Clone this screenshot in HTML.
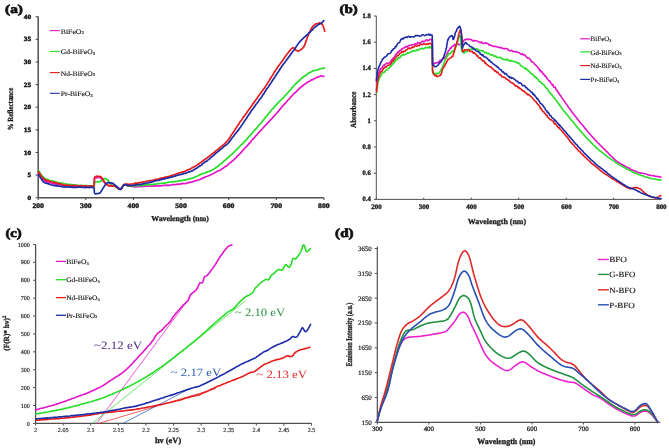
<!DOCTYPE html>
<html><head><meta charset="utf-8"><style>
html,body{margin:0;padding:0;background:#fff;width:669px;height:448px;overflow:hidden}
svg{display:block;font-family:"Liberation Serif",serif;will-change:transform;filter:blur(0.35px);text-rendering:geometricPrecision}
</style></head><body>
<svg width="669" height="448" viewBox="0 0 669 448">
<rect width="669" height="448" fill="#fff"/>
<line x1="38.20" y1="16.40" x2="38.20" y2="197.70" stroke="#505050" stroke-width="1.5"/>
<line x1="38.20" y1="197.70" x2="323.90" y2="197.70" stroke="#505050" stroke-width="1.5"/>
<line x1="35.60" y1="197.70" x2="38.20" y2="197.70" stroke="#505050" stroke-width="1.1"/>
<text x="27.50" y="199.80" font-size="6.4" font-weight="bold" fill="#1a1a1a" textLength="3.70" lengthAdjust="spacingAndGlyphs" stroke="#1a1a1a" stroke-width="0.4">0</text>
<line x1="35.60" y1="175.08" x2="38.20" y2="175.08" stroke="#505050" stroke-width="1.1"/>
<text x="27.50" y="177.18" font-size="6.4" font-weight="bold" fill="#1a1a1a" textLength="3.70" lengthAdjust="spacingAndGlyphs" stroke="#1a1a1a" stroke-width="0.4">5</text>
<line x1="35.60" y1="152.46" x2="38.20" y2="152.46" stroke="#505050" stroke-width="1.1"/>
<text x="23.80" y="154.56" font-size="6.4" font-weight="bold" fill="#1a1a1a" textLength="7.40" lengthAdjust="spacingAndGlyphs" stroke="#1a1a1a" stroke-width="0.4">10</text>
<line x1="35.60" y1="129.84" x2="38.20" y2="129.84" stroke="#505050" stroke-width="1.1"/>
<text x="23.80" y="131.94" font-size="6.4" font-weight="bold" fill="#1a1a1a" textLength="7.40" lengthAdjust="spacingAndGlyphs" stroke="#1a1a1a" stroke-width="0.4">15</text>
<line x1="35.60" y1="107.22" x2="38.20" y2="107.22" stroke="#505050" stroke-width="1.1"/>
<text x="23.80" y="109.32" font-size="6.4" font-weight="bold" fill="#1a1a1a" textLength="7.40" lengthAdjust="spacingAndGlyphs" stroke="#1a1a1a" stroke-width="0.4">20</text>
<line x1="35.60" y1="84.60" x2="38.20" y2="84.60" stroke="#505050" stroke-width="1.1"/>
<text x="23.80" y="86.70" font-size="6.4" font-weight="bold" fill="#1a1a1a" textLength="7.40" lengthAdjust="spacingAndGlyphs" stroke="#1a1a1a" stroke-width="0.4">25</text>
<line x1="35.60" y1="61.98" x2="38.20" y2="61.98" stroke="#505050" stroke-width="1.1"/>
<text x="23.80" y="64.08" font-size="6.4" font-weight="bold" fill="#1a1a1a" textLength="7.40" lengthAdjust="spacingAndGlyphs" stroke="#1a1a1a" stroke-width="0.4">30</text>
<line x1="35.60" y1="39.36" x2="38.20" y2="39.36" stroke="#505050" stroke-width="1.1"/>
<text x="23.80" y="41.46" font-size="6.4" font-weight="bold" fill="#1a1a1a" textLength="7.40" lengthAdjust="spacingAndGlyphs" stroke="#1a1a1a" stroke-width="0.4">35</text>
<line x1="35.60" y1="16.74" x2="38.20" y2="16.74" stroke="#505050" stroke-width="1.1"/>
<text x="23.80" y="18.84" font-size="6.4" font-weight="bold" fill="#1a1a1a" textLength="7.40" lengthAdjust="spacingAndGlyphs" stroke="#1a1a1a" stroke-width="0.4">40</text>
<line x1="38.20" y1="197.70" x2="38.20" y2="200.00" stroke="#505050" stroke-width="1.1"/>
<text x="32.40" y="208.10" font-size="7.0" font-weight="bold" fill="#1a1a1a" textLength="11.60" lengthAdjust="spacingAndGlyphs" stroke="#1a1a1a" stroke-width="0.4">200</text>
<line x1="85.82" y1="197.70" x2="85.82" y2="200.00" stroke="#505050" stroke-width="1.1"/>
<text x="80.02" y="208.10" font-size="7.0" font-weight="bold" fill="#1a1a1a" textLength="11.60" lengthAdjust="spacingAndGlyphs" stroke="#1a1a1a" stroke-width="0.4">300</text>
<line x1="133.44" y1="197.70" x2="133.44" y2="200.00" stroke="#505050" stroke-width="1.1"/>
<text x="127.64" y="208.10" font-size="7.0" font-weight="bold" fill="#1a1a1a" textLength="11.60" lengthAdjust="spacingAndGlyphs" stroke="#1a1a1a" stroke-width="0.4">400</text>
<line x1="181.06" y1="197.70" x2="181.06" y2="200.00" stroke="#505050" stroke-width="1.1"/>
<text x="175.26" y="208.10" font-size="7.0" font-weight="bold" fill="#1a1a1a" textLength="11.60" lengthAdjust="spacingAndGlyphs" stroke="#1a1a1a" stroke-width="0.4">500</text>
<line x1="228.68" y1="197.70" x2="228.68" y2="200.00" stroke="#505050" stroke-width="1.1"/>
<text x="222.88" y="208.10" font-size="7.0" font-weight="bold" fill="#1a1a1a" textLength="11.60" lengthAdjust="spacingAndGlyphs" stroke="#1a1a1a" stroke-width="0.4">600</text>
<line x1="276.30" y1="197.70" x2="276.30" y2="200.00" stroke="#505050" stroke-width="1.1"/>
<text x="270.50" y="208.10" font-size="7.0" font-weight="bold" fill="#1a1a1a" textLength="11.60" lengthAdjust="spacingAndGlyphs" stroke="#1a1a1a" stroke-width="0.4">700</text>
<line x1="323.92" y1="197.70" x2="323.92" y2="200.00" stroke="#505050" stroke-width="1.1"/>
<text x="318.12" y="208.10" font-size="7.0" font-weight="bold" fill="#1a1a1a" textLength="11.60" lengthAdjust="spacingAndGlyphs" stroke="#1a1a1a" stroke-width="0.4">800</text>
<text x="5.10" y="12.90" font-size="12.0" font-weight="bold" fill="#111" textLength="17.90" lengthAdjust="spacingAndGlyphs" stroke="#111" stroke-width="0.7">(a)</text>
<text x="151.30" y="220.80" font-size="7.6" font-weight="bold" fill="#1a1a1a" textLength="57.50" lengthAdjust="spacingAndGlyphs" stroke="#1a1a1a" stroke-width="0.3">Wavelength (nm)</text>
<text x="0" y="0" font-size="7.8" font-weight="bold" fill="#1a1a1a" textLength="42.40" lengthAdjust="spacingAndGlyphs" transform="translate(13.20,130.20) rotate(-90)" stroke="#1a1a1a" stroke-width="0.3">% Reflectance</text>
<line x1="49.80" y1="30.60" x2="59.80" y2="30.60" stroke="#e414c8" stroke-width="1.1"/>
<text x="60.80" y="33.60" font-size="6.9" font-weight="normal" fill="#1a1a1a" textLength="23.10" lengthAdjust="spacingAndGlyphs" stroke="#1a1a1a" stroke-width="0.15">BiFeO<tspan font-size='4.4' dy='0.5'>3</tspan></text>
<line x1="49.80" y1="51.40" x2="59.80" y2="51.40" stroke="#28dc28" stroke-width="1.1"/>
<text x="60.80" y="54.40" font-size="6.9" font-weight="normal" fill="#1a1a1a" textLength="34.40" lengthAdjust="spacingAndGlyphs" stroke="#1a1a1a" stroke-width="0.15">Gd-BiFeO<tspan font-size='4.4' dy='0.5'>3</tspan></text>
<line x1="49.80" y1="72.60" x2="59.80" y2="72.60" stroke="#e61c1c" stroke-width="1.1"/>
<text x="60.80" y="75.60" font-size="6.9" font-weight="normal" fill="#1a1a1a" textLength="34.40" lengthAdjust="spacingAndGlyphs" stroke="#1a1a1a" stroke-width="0.15">Nd-BiFeO<tspan font-size='4.4' dy='0.5'>3</tspan></text>
<line x1="49.80" y1="93.30" x2="59.80" y2="93.30" stroke="#1c2ca6" stroke-width="1.1"/>
<text x="60.80" y="96.30" font-size="6.9" font-weight="normal" fill="#1a1a1a" textLength="32.00" lengthAdjust="spacingAndGlyphs" stroke="#1a1a1a" stroke-width="0.15">Pr-BiFeO<tspan font-size='4.4' dy='0.5'>3</tspan></text>
<path d="M38.5,171.5 L38.9,172.3 L39.4,173.1 L39.9,174.4 L40.4,175.2 L41.0,176.5 L41.6,177.5 L42.2,178.3 L42.8,179.4 L43.6,179.9 L44.6,180.8 L45.7,181.2 L46.8,181.6 L47.9,182.2 L48.8,182.7 L49.8,182.6 L50.9,182.9 L52.1,183.3 L53.1,183.7 L54.0,183.6 L54.9,183.7 L55.9,184.2 L56.9,183.9 L58.0,184.5 L59.1,184.5 L60.3,184.6 L61.4,184.8 L62.6,185.0 L63.7,185.5 L64.8,185.3 L65.9,185.6 L66.9,185.8 L67.9,185.7 L68.9,185.9 L69.9,185.7 L70.9,185.8 L71.9,185.9 L72.9,186.2 L73.9,186.1 L74.9,186.1 L75.9,186.2 L77.0,186.2 L78.0,186.1 L79.0,186.4 L80.0,186.4 L81.1,186.2 L82.2,186.4 L83.3,186.4 L84.5,186.6 L85.6,186.5 L86.8,186.3 L88.0,186.7 L89.1,186.3 L90.1,186.4 L91.1,186.6 L92.0,186.3 L92.9,186.5 L93.5,186.2 L94.0,186.2 L94.2,185.5 L94.2,184.4 L94.3,183.5 L94.3,182.2 L94.3,181.3 L94.4,180.2 L94.4,179.2 L94.7,178.3 L95.4,178.0 L96.4,177.8 L97.6,177.4 L98.8,177.5 L99.9,177.4 L100.7,178.2 L101.4,178.8 L102.1,179.8 L102.7,180.5 L103.4,181.1 L104.1,182.0 L104.8,182.9 L105.6,183.3 L106.4,184.3 L107.2,184.8 L108.1,185.2 L109.0,185.5 L110.0,186.0 L111.0,185.8 L112.0,185.9 L113.0,186.0 L114.0,186.3 L115.0,186.0 L116.0,186.3 L117.0,186.7 L117.9,187.4 L118.8,188.1 L119.7,188.7 L120.4,188.6 L121.1,188.3 L121.7,187.5 L122.4,186.8 L123.1,186.0 L124.0,185.0 L124.8,184.9 L125.6,185.0 L126.4,185.2 L127.4,185.7 L128.5,186.1 L129.6,186.2 L130.8,186.2 L131.8,186.5 L132.7,186.5 L133.6,186.6 L134.6,186.8 L135.6,186.6 L136.6,186.5 L137.7,186.6 L138.8,186.6 L139.9,186.2 L140.9,186.6 L142.0,186.5 L143.0,186.5 L144.0,186.5 L145.1,186.2 L146.1,186.2 L147.2,186.1 L148.2,186.3 L149.2,186.0 L150.2,186.0 L151.2,186.1 L152.2,186.0 L153.3,186.1 L154.4,185.9 L155.6,185.8 L156.7,185.8 L157.7,185.8 L158.7,185.8 L159.6,185.6 L160.6,186.0 L161.6,185.8 L162.6,185.5 L163.6,185.4 L164.7,185.4 L165.8,185.3 L166.8,185.1 L167.9,185.4 L169.0,185.4 L170.0,185.1 L171.1,185.0 L172.1,184.7 L173.1,184.6 L174.1,184.6 L175.1,184.5 L176.1,184.6 L177.1,184.2 L178.2,184.0 L179.2,184.4 L180.2,184.0 L181.2,183.7 L182.2,183.8 L183.2,183.4 L184.1,183.5 L185.1,183.6 L186.1,183.4 L187.1,183.1 L188.0,182.7 L189.0,182.6 L190.0,182.2 L191.0,182.3 L192.1,181.9 L193.1,181.7 L194.2,181.1 L195.3,180.7 L196.4,180.6 L197.5,180.3 L198.5,179.9 L199.6,179.5 L200.6,179.1 L201.6,178.7 L202.5,178.1 L203.4,177.9 L204.2,177.5 L205.2,177.0 L206.3,176.5 L207.5,176.2 L208.4,175.7 L209.3,175.5 L210.2,175.2 L211.1,174.5 L212.0,174.2 L212.9,173.8 L213.7,173.4 L214.7,172.7 L215.6,172.2 L216.5,171.7 L217.4,171.3 L218.3,170.8 L219.2,170.5 L220.1,170.2 L221.1,169.6 L222.0,168.8 L223.0,168.3 L223.9,167.7 L224.8,166.7 L225.7,166.4 L226.6,165.9 L227.5,165.1 L228.4,164.5 L229.2,163.7 L230.0,162.8 L230.8,162.5 L231.6,161.5 L232.4,161.1 L233.2,160.4 L234.0,159.5 L234.7,158.8 L235.4,158.4 L236.1,157.6 L236.8,156.7 L237.5,155.9 L238.3,155.1 L239.1,154.7 L239.9,153.8 L240.6,152.7 L241.2,152.4 L241.9,151.7 L242.5,150.8 L243.2,149.9 L243.9,149.3 L244.7,148.2 L245.4,147.4 L246.2,147.0 L246.9,146.0 L247.7,145.1 L248.5,144.4 L249.2,143.3 L250.0,142.7 L250.6,142.0 L251.3,140.9 L251.9,140.2 L252.6,139.5 L253.2,138.7 L253.9,138.2 L254.6,137.2 L255.3,136.6 L255.9,135.6 L256.6,135.3 L257.3,134.2 L258.0,133.5 L258.7,132.7 L259.4,132.1 L260.1,131.1 L260.9,130.5 L261.6,129.5 L262.3,128.8 L263.0,128.0 L263.7,127.0 L264.4,126.5 L265.1,125.6 L265.9,124.7 L266.6,124.3 L267.3,123.2 L268.1,122.5 L268.8,121.9 L269.6,121.0 L270.3,120.1 L271.0,119.4 L271.7,118.7 L272.4,118.1 L273.1,117.0 L273.8,116.5 L274.4,115.6 L275.1,114.9 L275.8,114.3 L276.6,113.3 L277.3,112.4 L278.1,111.7 L278.7,110.9 L279.4,109.9 L280.1,109.2 L280.7,108.4 L281.3,107.6 L282.0,106.9 L282.6,106.0 L283.3,105.3 L284.0,104.5 L284.7,103.9 L285.4,103.0 L286.2,102.3 L286.9,101.5 L287.6,100.4 L288.4,99.7 L289.1,99.1 L289.8,98.3 L290.6,97.2 L291.3,96.4 L292.0,95.8 L292.8,94.8 L293.5,94.2 L294.3,93.3 L295.1,92.8 L295.9,92.0 L296.7,91.3 L297.4,90.2 L298.2,89.7 L299.0,88.9 L299.8,87.9 L300.6,87.6 L301.4,86.9 L302.1,85.9 L303.0,85.6 L303.8,84.7 L304.7,84.1 L305.6,83.7 L306.5,83.1 L307.4,82.2 L308.3,81.9 L309.1,81.4 L310.0,80.9 L310.9,80.3 L311.9,79.9 L312.8,79.6 L313.9,78.7 L315.0,78.4 L316.1,77.9 L317.1,77.2 L318.1,76.9 L319.1,76.7 L320.0,76.3 L321.0,75.8 L322.1,76.2 L323.0,76.3 L323.8,76.4" fill="none" stroke="#e414c8" stroke-width="1.7" stroke-linejoin="round" stroke-linecap="round"/>
<path d="M38.5,170.3 L39.1,171.5 L39.6,172.1 L40.3,173.3 L41.0,174.3 L41.8,175.7 L42.6,176.4 L43.4,177.2 L44.3,177.9 L45.2,178.7 L46.1,179.1 L47.1,179.3 L48.0,179.6 L48.9,180.3 L49.8,180.5 L50.9,180.8 L52.1,180.8 L53.1,181.0 L54.0,181.6 L54.9,181.7 L55.9,181.7 L56.9,182.4 L58.0,182.5 L59.1,182.8 L60.3,182.7 L61.4,183.3 L62.6,183.2 L63.7,183.8 L64.8,183.8 L65.9,183.9 L66.9,184.2 L67.9,184.5 L68.9,184.3 L69.9,184.4 L70.9,184.7 L71.9,184.7 L72.9,184.8 L73.9,184.9 L74.9,184.9 L75.9,185.1 L77.0,185.3 L78.0,185.3 L79.0,185.7 L80.0,185.5 L81.1,185.7 L82.2,185.6 L83.3,185.7 L84.5,185.6 L85.6,185.7 L86.8,185.6 L88.0,186.0 L89.1,185.9 L90.1,185.8 L91.1,185.9 L92.0,186.2 L92.9,185.8 L93.5,186.1 L94.0,185.6 L94.2,184.8 L94.3,184.0 L94.4,182.7 L94.7,182.0 L95.4,181.8 L96.4,182.0 L97.6,181.7 L98.9,181.9 L100.1,181.6 L101.1,181.1 L102.0,180.4 L102.9,179.7 L103.8,178.9 L104.7,178.5 L105.6,178.5 L106.4,179.2 L107.2,179.6 L107.9,180.4 L108.7,181.4 L109.5,182.7 L110.3,183.7 L111.1,184.4 L112.0,184.9 L113.0,185.5 L114.0,186.0 L115.0,186.6 L116.1,186.9 L117.2,187.7 L118.3,188.2 L119.4,189.0 L120.4,189.0 L121.1,188.3 L121.8,187.4 L122.4,186.8 L123.2,185.7 L124.0,185.1 L124.8,184.8 L125.6,185.0 L126.4,185.2 L127.4,185.5 L128.5,185.5 L129.6,185.9 L130.8,185.7 L131.8,185.9 L132.7,185.8 L133.6,185.9 L134.6,185.6 L135.6,185.6 L136.6,185.6 L137.7,185.5 L138.8,185.6 L139.9,185.5 L140.9,185.5 L142.0,185.3 L143.0,185.3 L144.0,185.3 L145.1,184.9 L146.1,184.8 L147.2,185.1 L148.2,184.5 L149.2,184.7 L150.2,184.6 L151.2,184.2 L152.2,184.5 L153.3,184.4 L154.4,184.1 L155.6,184.1 L156.7,184.0 L157.7,183.5 L158.7,183.6 L159.6,183.5 L160.6,183.5 L161.6,183.4 L162.6,183.3 L163.6,183.0 L164.7,183.1 L165.8,182.8 L166.8,182.7 L167.9,182.3 L169.0,182.1 L170.0,182.0 L171.1,182.0 L172.1,181.7 L173.1,181.9 L174.1,181.7 L175.1,181.6 L176.1,181.4 L177.2,181.3 L178.3,181.0 L179.3,180.6 L180.4,180.8 L181.5,180.6 L182.5,180.3 L183.5,180.2 L184.5,180.1 L185.5,179.6 L186.4,179.7 L187.4,179.3 L188.3,179.0 L189.2,178.9 L190.1,178.9 L191.2,178.3 L192.2,178.2 L193.3,178.0 L194.2,177.3 L195.2,176.9 L196.1,176.5 L197.0,176.2 L198.0,175.8 L198.9,175.3 L199.9,174.9 L200.9,174.3 L201.8,173.9 L202.8,173.6 L203.8,173.5 L204.8,172.9 L205.8,172.7 L206.8,172.1 L207.8,171.7 L208.8,171.4 L209.7,171.3 L210.6,170.9 L211.5,170.5 L212.4,169.8 L213.3,169.4 L214.2,168.9 L215.1,168.3 L215.9,167.6 L216.7,167.4 L217.4,166.4 L218.2,166.2 L219.1,165.5 L219.9,164.3 L220.7,163.9 L221.4,163.5 L222.2,162.9 L222.9,162.0 L223.7,161.3 L224.5,160.6 L225.3,160.3 L226.1,159.2 L226.8,158.7 L227.6,157.7 L228.4,157.2 L229.2,156.7 L230.0,155.6 L230.7,155.3 L231.5,154.5 L232.2,154.0 L232.9,153.3 L233.6,152.4 L234.3,152.1 L235.0,151.2 L235.8,150.3 L236.5,149.5 L237.3,149.0 L238.2,148.1 L239.1,147.2 L239.9,146.2 L240.6,145.6 L241.2,144.9 L241.9,144.5 L242.6,143.4 L243.3,143.0 L244.0,142.3 L244.7,141.1 L245.5,140.7 L246.2,139.8 L247.0,139.1 L247.7,137.9 L248.5,137.1 L249.2,136.3 L250.0,135.8 L250.7,134.8 L251.5,133.8 L252.2,133.1 L252.9,132.2 L253.5,131.4 L254.2,130.7 L254.8,130.3 L255.5,129.3 L256.3,128.7 L257.1,127.5 L257.8,126.6 L258.5,125.9 L259.2,124.9 L259.9,124.2 L260.5,123.7 L261.2,122.9 L261.8,122.1 L262.4,121.2 L263.0,120.6 L263.7,119.8 L264.3,118.8 L265.0,118.1 L265.6,117.0 L266.3,116.5 L267.0,115.6 L267.6,115.0 L268.3,114.1 L268.9,113.1 L269.6,112.2 L270.2,111.9 L270.9,110.7 L271.6,110.0 L272.2,109.2 L272.9,108.4 L273.6,107.8 L274.3,107.1 L275.0,106.0 L275.7,105.4 L276.4,104.5 L277.1,103.9 L277.8,103.1 L278.6,102.2 L279.3,101.4 L280.1,100.7 L280.8,100.3 L281.5,99.4 L282.3,98.5 L283.0,98.1 L283.7,97.4 L284.4,96.5 L285.0,95.6 L285.7,95.0 L286.4,94.2 L287.1,93.5 L287.9,92.6 L288.6,91.8 L289.3,91.0 L289.9,90.4 L290.6,89.8 L291.2,89.0 L291.8,88.0 L292.5,87.3 L293.2,86.6 L293.9,85.8 L294.6,85.0 L295.3,84.1 L296.1,83.5 L296.8,83.1 L297.6,81.9 L298.3,81.4 L299.1,80.7 L299.9,80.1 L300.6,79.1 L301.4,78.5 L302.2,77.8 L303.0,77.2 L303.8,76.6 L304.7,76.1 L305.6,75.4 L306.6,74.8 L307.5,73.8 L308.4,73.2 L309.3,73.0 L310.1,72.6 L311.0,71.9 L311.9,71.5 L312.9,70.8 L314.0,70.6 L315.0,70.5 L316.1,70.2 L317.0,69.9 L318.0,69.8 L319.0,69.1 L320.2,68.8 L321.4,68.5 L322.5,68.4 L323.4,68.2 L324.3,67.9" fill="none" stroke="#28dc28" stroke-width="1.7" stroke-linejoin="round" stroke-linecap="round"/>
<path d="M38.5,171.7 L39.1,172.8 L39.6,173.6 L40.3,174.5 L41.0,175.6 L41.6,176.4 L42.2,177.3 L42.8,177.8 L43.6,178.9 L44.6,179.2 L45.7,180.1 L46.8,180.4 L47.9,180.7 L48.8,180.9 L49.8,181.2 L50.9,181.7 L52.1,182.0 L53.1,182.0 L54.0,182.2 L54.9,182.7 L55.9,182.9 L56.9,183.1 L58.0,183.3 L59.1,183.8 L60.3,183.7 L61.4,184.2 L62.6,184.5 L63.7,185.0 L64.8,185.0 L65.9,185.3 L66.9,185.2 L67.9,185.2 L68.9,185.3 L69.9,185.7 L70.9,185.6 L71.9,185.5 L72.9,185.4 L73.9,185.7 L74.9,185.8 L75.9,185.7 L77.0,185.6 L78.0,185.8 L79.0,186.0 L80.0,185.7 L81.1,185.6 L82.2,185.8 L83.3,185.9 L84.5,186.0 L85.6,185.8 L86.8,186.1 L88.0,186.1 L89.1,186.0 L90.1,185.9 L91.1,186.3 L92.0,186.0 L92.9,186.2 L93.5,185.9 L94.0,185.6 L94.2,185.1 L94.2,183.9 L94.3,183.2 L94.3,181.9 L94.3,180.7 L94.3,179.7 L94.4,178.8 L94.4,177.9 L94.7,177.3 L95.3,176.5 L96.2,176.4 L97.3,176.2 L98.5,176.6 L99.6,176.3 L100.6,176.6 L101.4,177.2 L102.1,178.1 L102.8,179.3 L103.4,180.3 L104.1,181.3 L104.7,182.3 L105.3,183.2 L106.0,183.7 L106.7,184.4 L107.5,185.3 L108.3,185.6 L109.3,185.5 L110.4,185.8 L111.6,185.7 L112.8,185.8 L113.9,186.0 L114.9,186.3 L115.9,186.8 L116.9,187.6 L117.9,188.3 L118.8,189.2 L119.7,189.1 L120.5,189.5 L121.1,188.8 L121.7,188.1 L122.2,187.4 L122.7,186.4 L123.3,185.3 L124.0,184.4 L124.8,184.3 L125.6,184.1 L126.4,184.4 L127.4,184.1 L128.5,184.2 L129.6,184.5 L130.8,184.0 L131.8,184.0 L132.7,184.1 L133.6,183.9 L134.6,183.4 L135.6,183.2 L136.6,183.0 L137.7,183.2 L138.8,182.7 L139.9,182.7 L140.9,182.6 L142.0,182.1 L143.0,181.9 L144.0,182.0 L145.0,181.7 L146.0,181.3 L147.0,181.3 L148.0,181.0 L148.9,180.8 L149.8,180.5 L150.7,180.7 L151.6,180.6 L152.6,180.3 L153.6,180.3 L154.6,179.6 L155.7,179.4 L156.8,179.3 L157.8,179.3 L158.7,179.1 L159.6,178.6 L160.6,178.3 L161.6,178.1 L162.6,177.9 L163.6,177.9 L164.7,177.2 L165.8,177.2 L166.8,176.9 L167.9,176.7 L169.0,176.4 L170.0,176.0 L171.1,175.6 L172.1,175.3 L173.1,175.0 L174.1,174.9 L175.1,174.3 L176.1,174.0 L177.2,173.9 L178.3,173.3 L179.3,172.9 L180.4,172.5 L181.5,172.4 L182.5,171.9 L183.5,171.9 L184.5,171.5 L185.5,171.1 L186.4,170.4 L187.4,169.9 L188.3,169.6 L189.2,169.4 L190.1,169.1 L191.1,168.5 L192.1,167.8 L193.0,167.4 L193.9,167.0 L194.8,166.5 L195.7,166.0 L196.5,165.5 L197.3,164.9 L198.2,164.0 L199.1,163.8 L200.0,162.9 L200.8,162.5 L201.7,161.8 L202.5,161.3 L203.4,160.5 L204.2,159.8 L205.1,159.2 L206.0,158.5 L206.8,158.2 L207.7,157.3 L208.6,156.5 L209.5,155.9 L210.3,155.5 L211.2,154.6 L212.0,153.8 L212.8,153.5 L213.7,152.7 L214.5,152.2 L215.4,151.1 L216.2,150.6 L217.1,150.1 L217.9,149.5 L218.7,148.9 L219.5,147.8 L220.3,147.3 L221.0,146.6 L221.7,146.1 L222.5,145.8 L223.3,144.8 L224.2,144.2 L225.0,143.2 L225.7,142.8 L226.4,141.8 L227.1,140.9 L227.8,140.3 L228.4,139.6 L229.0,138.4 L229.6,137.8 L230.2,137.0 L230.8,135.9 L231.4,135.1 L232.0,134.1 L232.6,133.2 L233.2,132.4 L233.7,131.7 L234.3,130.9 L234.9,129.8 L235.4,128.9 L236.0,128.2 L236.5,127.6 L237.0,126.5 L237.5,125.8 L238.1,124.9 L238.7,124.3 L239.3,123.2 L239.9,122.1 L240.5,121.3 L241.0,120.7 L241.6,120.0 L242.1,119.2 L242.7,118.1 L243.3,117.3 L243.9,116.7 L244.5,115.7 L245.2,114.8 L245.8,113.9 L246.4,113.3 L247.1,112.1 L247.7,111.3 L248.4,110.3 L249.0,109.5 L249.6,108.9 L250.2,108.1 L250.8,106.9 L251.5,105.9 L252.1,105.2 L252.8,104.0 L253.5,103.0 L254.1,102.5 L254.8,101.3 L255.4,100.6 L256.1,99.5 L256.7,98.9 L257.3,97.8 L257.8,96.9 L258.3,96.1 L258.9,95.6 L259.5,94.8 L260.3,93.9 L261.1,92.4 L261.7,91.8 L262.3,90.9 L262.8,90.3 L263.4,89.3 L263.9,88.7 L264.4,88.1 L264.9,87.6 L265.4,86.3 L266.1,85.5 L266.7,84.6 L267.3,83.8 L267.8,82.6 L268.3,81.8 L268.8,81.3 L269.4,80.4 L270.0,79.2 L270.6,78.0 L271.2,77.5 L271.8,76.2 L272.4,75.5 L273.0,74.3 L273.6,73.5 L274.2,72.2 L274.8,71.6 L275.4,70.5 L276.0,69.7 L276.6,69.0 L277.2,68.0 L277.9,66.8 L278.5,65.9 L279.2,65.1 L279.8,64.3 L280.4,63.5 L281.0,62.6 L281.5,61.9 L282.0,61.4 L282.6,60.8 L283.1,59.5 L283.8,58.8 L284.5,57.8 L285.1,56.6 L285.7,56.1 L286.3,54.9 L287.0,54.3 L287.7,53.3 L288.4,52.4 L289.1,51.4 L289.8,50.6 L290.5,49.8 L291.2,48.9 L291.9,48.3 L292.8,47.9 L293.8,48.0 L294.7,48.4 L295.5,49.6 L296.2,50.4 L297.0,50.8 L298.1,51.1 L299.2,50.8 L300.3,50.1 L301.2,49.4 L301.9,49.0 L302.7,48.2 L303.4,47.4 L304.0,46.6 L304.4,45.5 L304.8,44.8 L305.2,43.9 L305.5,42.7 L305.8,41.9 L306.2,40.6 L306.6,39.8 L306.9,38.7 L307.3,37.5 L307.7,36.3 L308.1,35.5 L308.6,34.4 L309.0,33.6 L309.4,32.2 L309.9,31.5 L310.4,30.6 L310.8,29.5 L311.3,28.7 L311.8,27.6 L312.4,27.1 L313.1,26.0 L314.0,25.4 L314.8,24.7 L315.7,23.9 L316.7,23.8 L317.8,23.5 L319.0,22.9 L320.1,23.0 L321.1,23.5 L322.0,24.0 L322.7,25.4 L323.2,26.2 L323.6,27.5 L323.9,28.2 L324.2,29.5 L324.5,30.6 L324.7,31.2" fill="none" stroke="#e61c1c" stroke-width="1.7" stroke-linejoin="round" stroke-linecap="round"/>
<path d="M38.5,174.8 L39.1,175.5 L39.6,176.4 L40.3,177.5 L41.0,178.4 L41.6,179.2 L42.2,180.2 L42.8,181.0 L43.6,182.1 L44.6,182.6 L45.7,183.2 L46.8,183.2 L47.9,183.9 L48.8,183.9 L49.8,184.5 L50.9,184.8 L52.1,185.0 L53.1,185.4 L54.0,185.4 L54.9,185.6 L55.9,185.9 L56.9,185.6 L58.0,186.2 L59.1,186.2 L60.3,186.2 L61.4,186.6 L62.6,186.4 L63.7,186.9 L64.8,186.8 L65.9,186.8 L66.9,187.1 L67.9,187.0 L68.9,186.9 L69.9,187.2 L70.9,186.9 L71.9,187.3 L72.9,187.1 L73.9,187.3 L74.9,187.5 L75.9,187.3 L77.0,187.3 L78.0,187.2 L79.0,187.0 L80.0,187.1 L81.1,187.2 L82.2,187.4 L83.3,187.3 L84.5,187.4 L85.6,187.6 L86.8,187.3 L88.0,187.3 L89.1,187.6 L90.1,187.3 L91.1,187.3 L92.0,187.5 L92.9,187.4 L93.5,187.6 L94.0,187.8 L94.2,188.7 L94.3,189.7 L94.3,190.5 L94.3,191.7 L94.4,192.6 L94.7,193.2 L95.4,194.0 L96.5,193.7 L97.7,193.7 L98.8,193.3 L99.7,193.1 L100.4,192.4 L101.2,191.3 L101.9,190.1 L102.5,189.1 L103.1,188.0 L103.7,187.3 L104.3,186.3 L104.9,185.2 L105.5,184.4 L106.1,183.5 L106.8,183.2 L107.8,182.7 L108.9,182.6 L110.1,183.2 L111.3,182.7 L112.2,183.1 L113.1,183.6 L114.0,184.2 L115.0,185.0 L115.9,186.1 L116.8,186.5 L117.7,187.6 L118.5,188.5 L119.4,188.8 L120.1,189.2 L120.9,189.5 L121.5,188.9 L122.1,188.0 L122.6,186.9 L123.2,185.5 L124.0,184.9 L124.7,184.6 L125.5,184.5 L126.4,185.1 L127.4,185.3 L128.4,185.5 L129.6,185.3 L130.8,185.7 L131.8,185.6 L132.7,185.4 L133.6,185.5 L134.6,185.2 L135.6,184.9 L136.6,184.7 L137.7,184.6 L138.8,184.3 L139.9,184.3 L140.9,184.3 L142.0,184.1 L143.0,183.9 L144.0,183.7 L145.0,183.3 L146.0,183.2 L147.0,183.0 L148.0,182.9 L148.9,182.6 L149.8,182.2 L150.7,182.2 L151.6,182.2 L152.6,181.5 L153.6,181.6 L154.6,180.9 L155.7,180.8 L156.8,180.5 L157.8,180.5 L158.7,180.4 L159.6,180.1 L160.6,179.6 L161.6,179.6 L162.6,179.1 L163.6,178.8 L164.7,178.9 L165.8,178.5 L166.8,178.2 L167.9,177.9 L169.0,177.8 L170.0,177.3 L171.1,177.2 L172.1,176.9 L173.1,176.7 L174.1,176.2 L175.1,176.1 L176.1,175.7 L177.2,175.3 L178.3,175.0 L179.3,174.9 L180.4,174.4 L181.5,174.5 L182.5,173.9 L183.5,173.6 L184.5,173.3 L185.5,173.5 L186.4,172.9 L187.4,172.5 L188.3,172.1 L189.2,171.8 L190.1,171.7 L191.1,171.3 L192.1,170.9 L193.0,170.4 L193.9,169.6 L194.8,169.3 L195.7,168.7 L196.5,168.3 L197.3,167.8 L198.2,167.2 L199.1,166.2 L200.0,166.0 L200.8,165.4 L201.7,164.9 L202.5,163.8 L203.4,163.3 L204.2,162.6 L205.1,161.9 L206.0,161.7 L206.8,161.0 L207.7,160.2 L208.6,159.6 L209.5,158.8 L210.3,158.0 L211.2,157.2 L212.0,156.5 L212.8,156.2 L213.7,155.2 L214.5,154.5 L215.4,153.8 L216.2,152.9 L217.1,152.3 L217.9,151.6 L218.7,151.1 L219.5,150.2 L220.3,149.5 L221.0,149.3 L221.7,148.4 L222.5,148.0 L223.3,147.2 L224.2,146.2 L225.0,145.8 L225.7,145.3 L226.4,145.0 L227.1,144.1 L227.8,143.6 L228.5,142.8 L229.1,142.0 L229.7,141.5 L230.3,140.3 L230.9,139.9 L231.5,138.7 L232.2,137.7 L232.8,137.0 L233.4,136.4 L234.0,135.7 L234.6,134.5 L235.2,133.9 L235.8,133.2 L236.4,132.7 L237.0,131.6 L237.7,130.9 L238.4,129.9 L239.1,129.2 L239.9,127.9 L240.4,127.4 L241.0,126.3 L241.5,125.5 L242.0,125.0 L242.5,124.1 L243.1,123.1 L243.7,122.5 L244.2,121.3 L244.8,120.8 L245.4,119.8 L246.1,119.0 L246.7,118.0 L247.3,116.9 L247.9,116.0 L248.5,115.0 L249.2,114.4 L249.8,113.1 L250.4,112.6 L251.0,111.3 L251.6,110.5 L252.2,109.7 L252.8,109.1 L253.5,108.0 L254.1,107.1 L254.8,106.4 L255.4,105.1 L256.1,104.3 L256.8,103.5 L257.4,102.7 L258.1,101.8 L258.7,100.9 L259.3,99.9 L259.9,99.0 L260.5,98.2 L261.0,97.8 L261.6,97.0 L262.0,96.3 L262.5,95.4 L263.1,94.6 L263.9,93.6 L264.6,92.4 L265.1,91.4 L265.6,90.8 L266.1,90.2 L266.6,89.1 L267.1,88.4 L267.7,87.7 L268.3,87.0 L268.9,86.2 L269.6,84.8 L270.4,83.7 L270.9,82.9 L271.4,82.2 L271.9,81.5 L272.5,80.5 L273.0,79.7 L273.6,78.7 L274.2,78.2 L274.8,77.1 L275.4,75.8 L276.1,75.3 L276.7,73.9 L277.3,73.1 L277.9,72.5 L278.4,71.6 L279.0,70.7 L279.6,69.7 L280.2,68.7 L280.8,68.0 L281.5,66.8 L282.1,65.9 L282.8,65.1 L283.4,64.1 L284.0,63.5 L284.6,62.9 L285.1,62.1 L285.6,61.3 L286.1,60.7 L286.7,59.8 L287.4,58.8 L288.0,58.1 L288.6,57.2 L289.1,56.6 L289.6,56.0 L290.2,54.9 L290.8,54.2 L291.5,53.4 L292.1,52.4 L292.8,51.4 L293.5,50.7 L294.1,49.9 L294.7,49.0 L295.3,48.1 L295.9,47.3 L296.5,46.3 L297.1,45.4 L297.7,44.4 L298.4,43.5 L299.0,42.8 L299.7,41.8 L300.4,41.1 L301.1,40.4 L301.9,39.6 L302.7,38.8 L303.5,37.9 L304.2,37.3 L305.0,36.6 L305.8,36.0 L306.5,35.2 L307.3,34.6 L308.0,34.1 L308.8,33.0 L309.6,32.5 L310.4,31.8 L311.1,30.9 L311.9,30.2 L312.7,29.7 L313.5,28.4 L314.3,27.9 L315.1,27.0 L315.9,26.6 L316.7,26.0 L317.6,25.2 L318.6,24.4 L319.5,24.1 L320.4,23.6 L321.3,23.2 L322.1,22.4 L323.0,21.7 L323.8,20.6" fill="none" stroke="#1c2ca6" stroke-width="1.7" stroke-linejoin="round" stroke-linecap="round"/>
<line x1="376.30" y1="15.80" x2="376.30" y2="199.40" stroke="#505050" stroke-width="1.0"/>
<line x1="376.30" y1="199.40" x2="661.20" y2="199.40" stroke="#505050" stroke-width="1.0"/>
<line x1="373.90" y1="199.40" x2="376.30" y2="199.40" stroke="#505050" stroke-width="1.0"/>
<text x="362.60" y="201.40" font-size="6.8" font-weight="bold" fill="#1a1a1a" textLength="8.20" lengthAdjust="spacingAndGlyphs" stroke="#1a1a1a" stroke-width="0.35">0.4</text>
<line x1="373.90" y1="173.20" x2="376.30" y2="173.20" stroke="#505050" stroke-width="1.0"/>
<text x="362.60" y="175.20" font-size="6.8" font-weight="bold" fill="#1a1a1a" textLength="8.20" lengthAdjust="spacingAndGlyphs" stroke="#1a1a1a" stroke-width="0.35">0.6</text>
<line x1="373.90" y1="147.00" x2="376.30" y2="147.00" stroke="#505050" stroke-width="1.0"/>
<text x="362.60" y="149.00" font-size="6.8" font-weight="bold" fill="#1a1a1a" textLength="8.20" lengthAdjust="spacingAndGlyphs" stroke="#1a1a1a" stroke-width="0.35">0.8</text>
<line x1="373.90" y1="120.80" x2="376.30" y2="120.80" stroke="#505050" stroke-width="1.0"/>
<text x="367.50" y="122.80" font-size="6.8" font-weight="bold" fill="#1a1a1a" textLength="3.30" lengthAdjust="spacingAndGlyphs" stroke="#1a1a1a" stroke-width="0.35">1</text>
<line x1="373.90" y1="94.60" x2="376.30" y2="94.60" stroke="#505050" stroke-width="1.0"/>
<text x="362.60" y="96.60" font-size="6.8" font-weight="bold" fill="#1a1a1a" textLength="8.20" lengthAdjust="spacingAndGlyphs" stroke="#1a1a1a" stroke-width="0.35">1.2</text>
<line x1="373.90" y1="68.40" x2="376.30" y2="68.40" stroke="#505050" stroke-width="1.0"/>
<text x="362.60" y="70.40" font-size="6.8" font-weight="bold" fill="#1a1a1a" textLength="8.20" lengthAdjust="spacingAndGlyphs" stroke="#1a1a1a" stroke-width="0.35">1.4</text>
<line x1="373.90" y1="42.20" x2="376.30" y2="42.20" stroke="#505050" stroke-width="1.0"/>
<text x="362.60" y="44.20" font-size="6.8" font-weight="bold" fill="#1a1a1a" textLength="8.20" lengthAdjust="spacingAndGlyphs" stroke="#1a1a1a" stroke-width="0.35">1.6</text>
<line x1="373.90" y1="16.00" x2="376.30" y2="16.00" stroke="#505050" stroke-width="1.0"/>
<text x="362.60" y="18.00" font-size="6.8" font-weight="bold" fill="#1a1a1a" textLength="8.20" lengthAdjust="spacingAndGlyphs" stroke="#1a1a1a" stroke-width="0.35">1.8</text>
<line x1="376.30" y1="197.60" x2="376.30" y2="199.40" stroke="#505050" stroke-width="1.0"/>
<text x="371.30" y="208.80" font-size="6.9" font-weight="bold" fill="#1a1a1a" textLength="10.40" lengthAdjust="spacingAndGlyphs" stroke="#1a1a1a" stroke-width="0.35">200</text>
<line x1="423.78" y1="197.60" x2="423.78" y2="199.40" stroke="#505050" stroke-width="1.0"/>
<text x="418.78" y="208.80" font-size="6.9" font-weight="bold" fill="#1a1a1a" textLength="10.40" lengthAdjust="spacingAndGlyphs" stroke="#1a1a1a" stroke-width="0.35">300</text>
<line x1="471.26" y1="197.60" x2="471.26" y2="199.40" stroke="#505050" stroke-width="1.0"/>
<text x="466.26" y="208.80" font-size="6.9" font-weight="bold" fill="#1a1a1a" textLength="10.40" lengthAdjust="spacingAndGlyphs" stroke="#1a1a1a" stroke-width="0.35">400</text>
<line x1="518.74" y1="197.60" x2="518.74" y2="199.40" stroke="#505050" stroke-width="1.0"/>
<text x="513.74" y="208.80" font-size="6.9" font-weight="bold" fill="#1a1a1a" textLength="10.40" lengthAdjust="spacingAndGlyphs" stroke="#1a1a1a" stroke-width="0.35">500</text>
<line x1="566.22" y1="197.60" x2="566.22" y2="199.40" stroke="#505050" stroke-width="1.0"/>
<text x="561.22" y="208.80" font-size="6.9" font-weight="bold" fill="#1a1a1a" textLength="10.40" lengthAdjust="spacingAndGlyphs" stroke="#1a1a1a" stroke-width="0.35">600</text>
<line x1="613.70" y1="197.60" x2="613.70" y2="199.40" stroke="#505050" stroke-width="1.0"/>
<text x="608.70" y="208.80" font-size="6.9" font-weight="bold" fill="#1a1a1a" textLength="10.40" lengthAdjust="spacingAndGlyphs" stroke="#1a1a1a" stroke-width="0.35">700</text>
<line x1="661.18" y1="197.60" x2="661.18" y2="199.40" stroke="#505050" stroke-width="1.0"/>
<text x="656.18" y="208.80" font-size="6.9" font-weight="bold" fill="#1a1a1a" textLength="10.40" lengthAdjust="spacingAndGlyphs" stroke="#1a1a1a" stroke-width="0.35">800</text>
<text x="339.50" y="12.90" font-size="12.0" font-weight="bold" fill="#111" textLength="18.30" lengthAdjust="spacingAndGlyphs" stroke="#111" stroke-width="0.7">(b)</text>
<text x="467.80" y="224.40" font-size="7.8" font-weight="bold" fill="#1a1a1a" textLength="58.30" lengthAdjust="spacingAndGlyphs" stroke="#1a1a1a" stroke-width="0.3">Wavelength (nm)</text>
<text x="0" y="0" font-size="8.0" font-weight="bold" fill="#1a1a1a" textLength="36.30" lengthAdjust="spacingAndGlyphs" transform="translate(355.70,128.00) rotate(-90)" stroke="#1a1a1a" stroke-width="0.3">Absorbance</text>
<line x1="580.20" y1="38.80" x2="590.30" y2="38.80" stroke="#e414c8" stroke-width="1.2"/>
<text x="590.60" y="41.40" font-size="6.8" font-weight="normal" fill="#1a1a1a" textLength="20.80" lengthAdjust="spacingAndGlyphs" stroke="#1a1a1a" stroke-width="0.15">BiFeO<tspan font-size='4.0' dy='0.5'>3</tspan></text>
<line x1="580.20" y1="51.90" x2="590.30" y2="51.90" stroke="#28dc28" stroke-width="1.2"/>
<text x="590.60" y="54.50" font-size="6.8" font-weight="normal" fill="#1a1a1a" textLength="30.90" lengthAdjust="spacingAndGlyphs" stroke="#1a1a1a" stroke-width="0.15">Gd-BiFeO<tspan font-size='4.0' dy='0.5'>3</tspan></text>
<line x1="580.20" y1="65.60" x2="590.30" y2="65.60" stroke="#e61c1c" stroke-width="1.2"/>
<text x="590.60" y="68.20" font-size="6.8" font-weight="normal" fill="#1a1a1a" textLength="30.90" lengthAdjust="spacingAndGlyphs" stroke="#1a1a1a" stroke-width="0.15">Nd-BiFeO<tspan font-size='4.0' dy='0.5'>3</tspan></text>
<line x1="580.20" y1="79.40" x2="590.30" y2="79.40" stroke="#1c2ca6" stroke-width="1.2"/>
<text x="590.60" y="82.00" font-size="6.8" font-weight="normal" fill="#1a1a1a" textLength="28.70" lengthAdjust="spacingAndGlyphs" stroke="#1a1a1a" stroke-width="0.15">Pr-BiFeO<tspan font-size='4.0' dy='0.5'>3</tspan></text>
<path d="M376.5,90.0 L376.6,89.7 L376.6,88.5 L376.7,87.5 L376.8,87.4 L376.9,85.2 L377.0,84.8 L377.1,83.3 L377.2,82.6 L377.3,80.5 L377.4,80.7 L377.6,78.6 L377.7,77.2 L377.9,76.5 L378.1,75.6 L378.4,73.9 L378.7,73.4 L379.0,72.4 L379.4,71.9 L379.8,70.4 L380.3,69.4 L380.8,68.5 L381.4,68.4 L382.1,67.9 L382.8,66.4 L383.5,65.2 L384.3,65.5 L385.1,64.3 L386.0,63.6 L387.0,63.1 L388.1,63.6 L389.1,63.1 L389.9,62.2 L390.6,61.3 L391.2,60.8 L391.8,59.5 L392.4,59.8 L393.0,58.1 L393.7,57.7 L394.3,57.0 L395.0,56.1 L395.8,54.7 L396.5,53.6 L397.3,53.1 L398.1,51.6 L398.9,51.9 L399.7,50.5 L400.6,50.6 L401.4,49.2 L402.3,48.8 L403.2,48.1 L404.1,47.9 L405.1,47.1 L406.0,46.4 L407.0,47.1 L408.0,46.0 L409.0,45.6 L410.1,45.3 L411.1,45.2 L412.1,44.8 L413.1,44.8 L414.1,44.5 L415.0,43.7 L416.0,44.2 L416.9,43.8 L417.9,42.3 L419.0,43.1 L420.1,42.9 L421.3,42.3 L422.5,41.0 L423.6,41.8 L424.8,41.2 L425.8,40.0 L426.9,39.7 L427.8,40.9 L428.7,40.3 L429.6,39.5 L430.4,39.2 L431.1,39.3 L431.7,39.7 L432.1,41.2 L432.3,41.4 L432.3,42.1 L432.3,44.2 L432.3,45.0 L432.4,45.1 L432.4,47.2 L432.4,47.8 L432.4,49.1 L432.4,50.0 L432.4,51.3 L432.4,52.2 L432.4,53.3 L432.4,53.3 L432.4,55.1 L432.4,55.9 L432.4,57.2 L432.5,57.8 L432.5,59.5 L432.5,60.0 L432.5,60.6 L432.5,61.5 L432.7,62.2 L433.0,63.4 L433.6,63.0 L434.5,63.6 L435.5,62.9 L436.5,63.0 L437.4,62.6 L438.3,62.1 L439.2,62.1 L440.1,60.2 L441.1,60.8 L442.0,59.6 L443.0,59.1 L443.8,58.7 L444.6,58.3 L445.3,56.8 L445.9,56.1 L446.5,56.0 L446.9,53.8 L447.3,53.7 L447.7,52.8 L448.1,51.0 L448.5,51.0 L449.0,50.3 L449.6,49.8 L450.2,48.1 L450.9,48.4 L451.7,46.9 L452.5,46.2 L453.5,46.2 L454.5,44.4 L455.6,45.0 L456.8,44.5 L458.0,44.0 L459.2,44.8 L460.3,44.1 L461.3,44.1 L462.0,43.7 L462.6,43.3 L463.1,41.5 L463.6,40.9 L464.2,40.0 L464.9,39.6 L465.7,39.7 L466.6,38.8 L467.6,39.6 L468.6,39.2 L469.7,39.5 L470.7,39.4 L471.8,40.0 L472.7,40.9 L473.5,40.6 L474.4,41.0 L475.3,40.5 L476.2,40.8 L477.3,41.1 L478.5,41.8 L479.6,42.2 L480.6,42.7 L481.5,41.8 L482.4,43.1 L483.3,43.6 L484.2,43.3 L485.2,42.8 L486.2,43.4 L487.2,43.3 L488.2,43.8 L489.3,45.2 L490.3,45.0 L491.4,45.4 L492.5,45.9 L493.6,46.4 L494.7,46.2 L495.8,46.5 L496.9,46.8 L497.9,47.2 L499.0,47.4 L500.0,47.8 L501.0,47.3 L502.1,48.3 L503.1,48.3 L504.2,49.0 L505.2,48.3 L506.3,48.7 L507.4,48.8 L508.5,50.2 L509.5,50.7 L510.6,50.6 L511.7,50.4 L512.7,51.4 L513.7,51.7 L514.7,51.6 L515.7,51.5 L516.6,51.8 L517.5,52.3 L518.4,52.4 L519.3,52.9 L520.3,53.6 L521.3,54.5 L522.4,53.7 L523.4,55.0 L524.4,54.7 L525.3,55.4 L526.1,57.0 L526.9,57.2 L527.7,58.3 L528.4,58.2 L529.2,58.1 L530.0,59.3 L530.7,60.3 L531.4,61.4 L532.1,62.2 L532.8,62.1 L533.4,62.6 L534.0,62.9 L534.7,64.5 L535.5,64.7 L536.2,65.5 L537.0,66.2 L537.8,67.0 L538.5,68.8 L539.1,68.7 L539.8,70.7 L540.4,70.1 L541.1,72.0 L541.8,71.7 L542.5,72.3 L543.2,74.2 L544.0,74.3 L544.7,75.9 L545.4,75.9 L546.2,76.6 L546.9,78.5 L547.7,79.3 L548.4,80.3 L549.1,81.0 L549.8,80.8 L550.4,82.4 L551.1,83.3 L551.7,83.6 L552.3,85.1 L553.0,84.8 L553.6,86.8 L554.3,87.3 L555.0,87.1 L555.6,87.9 L556.1,89.6 L556.7,90.6 L557.2,90.3 L557.7,91.3 L558.2,92.7 L558.8,92.7 L559.3,94.6 L559.9,94.9 L560.5,95.5 L561.1,96.5 L561.7,97.4 L562.2,98.1 L562.8,99.1 L563.4,99.7 L564.1,100.9 L564.7,101.6 L565.3,102.6 L565.9,103.5 L566.6,104.3 L567.2,105.2 L567.8,106.2 L568.5,107.2 L569.1,108.0 L569.7,108.7 L570.3,109.4 L570.9,110.2 L571.6,111.5 L572.2,112.2 L572.8,113.0 L573.4,113.6 L574.0,114.5 L574.6,115.5 L575.2,116.2 L575.8,116.9 L576.4,117.6 L577.1,118.5 L577.7,119.6 L578.5,120.2 L579.2,121.3 L579.9,122.1 L580.5,123.0 L581.2,123.7 L581.8,124.2 L582.4,124.8 L583.0,125.8 L583.7,126.6 L584.4,127.5 L585.1,128.4 L585.8,129.3 L586.5,129.7 L587.2,130.9 L587.9,131.8 L588.6,132.6 L589.3,133.3 L590.1,134.0 L590.8,135.1 L591.4,135.8 L592.1,136.5 L592.8,137.4 L593.4,137.9 L594.1,138.4 L594.7,139.4 L595.4,140.3 L596.2,140.8 L597.0,141.9 L597.8,142.9 L598.6,143.4 L599.4,144.3 L600.1,145.1 L600.9,145.8 L601.6,146.4 L602.3,147.1 L603.0,148.0 L603.7,148.7 L604.4,149.3 L605.1,149.7 L605.8,150.8 L606.6,151.5 L607.3,152.0 L608.0,152.9 L608.8,153.8 L609.5,154.6 L610.2,155.2 L611.0,155.9 L611.7,156.7 L612.4,157.2 L613.1,157.9 L613.8,158.6 L614.5,159.5 L615.2,159.9 L616.0,160.7 L616.9,161.3 L617.8,162.0 L618.7,162.4 L619.7,162.9 L620.6,164.0 L621.5,164.2 L622.5,164.6 L623.4,165.3 L624.4,165.9 L625.3,166.1 L626.2,166.9 L627.1,167.2 L628.0,167.8 L628.9,168.0 L629.8,168.5 L630.7,169.5 L631.7,169.9 L632.6,170.1 L633.6,170.6 L634.6,170.8 L635.6,171.4 L636.5,171.6 L637.5,172.2 L638.5,172.4 L639.5,172.7 L640.5,173.1 L641.6,173.0 L642.6,173.2 L643.6,173.5 L644.7,173.8 L645.7,174.0 L646.8,174.2 L647.8,174.7 L648.9,175.1 L650.0,175.1 L651.1,175.6 L652.3,175.8 L653.4,175.6 L654.6,176.1 L655.7,176.2 L656.7,176.2 L657.7,176.8 L658.7,176.6 L659.5,176.9 L660.1,177.0 L660.9,177.1" fill="none" stroke="#e414c8" stroke-width="1.6" stroke-linejoin="round" stroke-linecap="round"/>
<path d="M376.5,93.0 L376.6,92.8 L376.7,91.7 L376.8,90.4 L376.9,89.5 L377.0,87.9 L377.2,88.0 L377.3,86.9 L377.5,84.6 L377.7,83.3 L377.8,82.5 L378.1,81.7 L378.4,81.5 L378.7,80.5 L379.0,79.4 L379.4,77.3 L379.8,77.6 L380.3,76.6 L380.8,75.7 L381.4,75.3 L382.1,73.1 L382.8,72.4 L383.5,72.6 L384.3,72.2 L385.0,71.2 L385.8,70.1 L386.6,70.1 L387.4,69.8 L388.3,68.3 L389.2,67.9 L390.0,67.2 L390.6,66.3 L391.2,66.2 L391.8,65.0 L392.4,64.4 L393.0,63.4 L393.7,63.4 L394.3,61.6 L395.0,61.8 L395.8,60.2 L396.5,59.1 L397.3,59.7 L398.1,57.9 L398.9,58.2 L399.7,57.5 L400.6,56.9 L401.4,55.3 L402.3,55.2 L403.2,54.3 L404.1,55.1 L405.1,54.6 L406.0,53.9 L407.0,53.2 L408.0,52.7 L409.0,53.1 L410.1,52.2 L411.1,52.2 L412.1,51.1 L413.1,50.9 L414.1,50.4 L415.0,51.1 L416.0,50.6 L416.9,49.7 L417.9,50.5 L419.0,49.3 L420.1,49.2 L421.3,48.5 L422.5,48.4 L423.6,49.0 L424.8,48.0 L425.8,47.5 L426.9,47.7 L427.8,47.3 L428.7,48.0 L429.6,46.6 L430.4,47.8 L431.1,46.5 L431.7,48.1 L432.1,48.4 L432.3,48.5 L432.3,49.9 L432.3,50.6 L432.3,51.6 L432.3,52.5 L432.4,53.7 L432.4,55.7 L432.4,56.7 L432.4,57.6 L432.4,57.3 L432.4,58.6 L432.4,60.5 L432.4,60.3 L432.4,62.3 L432.4,62.7 L432.4,64.7 L432.4,64.2 L432.5,66.4 L432.5,66.7 L432.5,67.4 L432.5,68.2 L432.5,70.5 L432.6,71.0 L432.9,71.3 L433.4,72.5 L434.1,73.9 L434.9,73.3 L435.8,74.1 L436.8,73.4 L437.7,73.2 L438.6,73.5 L439.5,72.6 L440.3,71.0 L440.9,69.9 L441.4,69.1 L441.8,69.0 L442.2,67.8 L442.6,66.5 L443.0,65.4 L443.4,64.9 L443.8,64.0 L444.2,63.2 L444.6,61.8 L445.0,60.3 L445.4,59.1 L445.9,59.0 L446.4,57.4 L446.9,56.9 L447.4,55.0 L448.0,55.3 L448.6,53.9 L449.4,54.0 L450.3,53.5 L451.2,52.5 L452.1,51.2 L452.9,51.8 L453.6,50.4 L454.3,50.1 L454.9,48.2 L455.5,47.0 L456.1,46.9 L456.6,45.0 L457.0,43.5 L457.4,42.6 L457.8,41.6 L458.1,39.4 L458.5,38.8 L458.9,37.6 L459.2,36.7 L459.6,35.5 L459.9,36.0 L460.1,36.1 L460.3,36.4 L460.5,36.1 L460.6,37.4 L460.7,37.8 L460.8,39.4 L460.8,39.6 L460.9,42.1 L461.0,43.5 L461.1,44.1 L461.1,45.5 L461.3,46.8 L461.4,48.1 L461.5,48.5 L461.7,50.9 L462.0,50.7 L462.3,51.3 L462.7,51.7 L463.3,52.2 L464.1,53.1 L464.9,51.7 L465.9,51.4 L466.9,51.7 L467.9,50.3 L468.9,49.4 L469.9,49.7 L470.9,49.2 L471.9,48.8 L472.8,49.0 L473.7,48.1 L474.5,49.3 L475.4,49.3 L476.3,48.6 L477.4,49.1 L478.5,50.1 L479.6,50.5 L480.6,50.5 L481.4,50.5 L482.3,51.2 L483.1,51.1 L484.0,52.1 L484.9,52.8 L485.8,52.1 L486.8,53.1 L487.8,53.7 L488.8,53.2 L489.8,54.6 L490.8,55.1 L491.9,54.7 L492.9,55.1 L493.9,56.1 L495.0,56.0 L496.0,56.2 L497.0,57.4 L498.0,57.5 L499.0,57.2 L500.0,57.4 L500.9,57.8 L501.9,58.3 L502.8,59.4 L503.8,59.3 L504.7,59.7 L505.6,59.8 L506.5,60.1 L507.5,59.1 L508.4,60.0 L509.3,60.9 L510.3,61.1 L511.2,60.3 L512.1,60.9 L513.1,61.5 L514.0,61.4 L515.0,62.1 L516.0,61.8 L517.0,62.8 L518.0,63.4 L518.9,63.2 L519.8,63.9 L520.7,65.6 L521.4,65.9 L522.2,66.6 L522.9,66.7 L523.7,67.5 L524.4,68.2 L525.2,68.8 L526.0,68.1 L526.8,69.7 L527.5,69.7 L528.3,71.0 L529.1,71.1 L529.9,72.2 L530.7,73.5 L531.5,73.7 L532.3,73.9 L533.1,75.0 L533.9,75.6 L534.7,77.1 L535.5,76.8 L536.2,77.6 L537.0,78.8 L537.7,78.8 L538.5,80.2 L539.2,81.5 L540.0,81.5 L540.7,81.9 L541.4,82.9 L542.1,83.7 L542.8,83.8 L543.5,84.5 L544.2,85.3 L544.9,86.4 L545.7,87.4 L546.5,88.0 L547.2,88.9 L548.0,89.5 L548.7,91.1 L549.4,92.4 L550.2,93.0 L550.9,93.8 L551.6,94.9 L552.3,95.1 L553.0,96.7 L553.6,97.2 L554.3,98.2 L554.9,99.1 L555.5,99.7 L556.1,100.3 L556.7,101.0 L557.2,101.7 L557.7,102.8 L558.2,103.3 L558.7,104.2 L559.2,104.0 L559.7,105.2 L560.3,106.4 L560.8,106.8 L561.3,107.6 L561.8,108.2 L562.2,108.8 L562.8,109.9 L563.4,110.3 L564.0,111.2 L564.5,111.6 L565.1,112.2 L565.6,113.3 L566.3,113.8 L566.9,114.4 L567.6,115.4 L568.3,116.2 L569.0,117.3 L569.7,117.8 L570.5,118.8 L571.2,120.0 L572.0,120.8 L572.7,121.4 L573.5,122.4 L574.2,123.3 L574.9,124.4 L575.7,125.2 L576.4,126.2 L577.0,126.9 L577.7,127.6 L578.3,128.4 L578.9,129.1 L579.5,129.9 L580.2,130.5 L581.0,131.6 L581.7,132.4 L582.5,133.4 L583.2,133.8 L583.9,135.0 L584.5,135.3 L585.2,136.3 L585.7,136.9 L586.3,137.5 L586.9,138.3 L587.5,138.8 L588.1,139.3 L588.8,140.2 L589.5,141.0 L590.2,141.7 L591.0,142.3 L591.7,143.2 L592.5,143.9 L593.2,144.8 L594.0,145.4 L594.8,146.1 L595.5,147.0 L596.3,147.6 L597.1,148.3 L597.8,149.2 L598.6,149.9 L599.4,150.4 L600.2,151.0 L601.0,151.5 L601.7,152.2 L602.5,152.7 L603.3,153.5 L604.1,154.1 L604.9,154.5 L605.7,155.5 L606.5,155.8 L607.4,156.7 L608.2,157.3 L609.1,158.0 L609.9,158.3 L610.8,159.0 L611.6,159.8 L612.5,160.0 L613.3,160.6 L614.2,161.4 L615.1,161.9 L615.9,162.7 L616.9,163.2 L617.8,163.7 L618.7,164.5 L619.7,164.9 L620.6,165.4 L621.5,166.1 L622.5,166.5 L623.4,167.0 L624.4,167.6 L625.3,168.0 L626.2,168.8 L627.1,169.2 L628.0,169.6 L628.9,169.8 L629.8,170.4 L630.7,170.9 L631.7,171.4 L632.6,171.9 L633.6,172.5 L634.6,173.0 L635.6,173.1 L636.5,173.5 L637.5,174.0 L638.5,174.6 L639.5,174.6 L640.5,175.1 L641.6,175.6 L642.6,175.7 L643.6,176.1 L644.7,176.8 L645.7,177.0 L646.8,177.2 L647.8,177.3 L648.9,178.0 L650.0,178.1 L651.1,178.5 L652.3,178.8 L653.4,179.0 L654.6,179.0 L655.7,179.1 L656.7,179.4 L657.7,179.7 L658.7,179.9 L659.5,179.9 L660.1,180.0 L660.9,180.3" fill="none" stroke="#28dc28" stroke-width="1.6" stroke-linejoin="round" stroke-linecap="round"/>
<path d="M376.5,92.0 L376.6,91.4 L376.6,90.6 L376.7,89.4 L376.8,89.4 L376.9,87.8 L377.0,85.8 L377.2,85.2 L377.3,84.6 L377.4,82.7 L377.5,82.2 L377.7,80.1 L377.9,79.5 L378.1,79.3 L378.4,77.8 L378.7,76.9 L379.0,75.1 L379.4,74.6 L379.8,73.8 L380.3,72.5 L380.8,72.2 L381.4,71.2 L382.1,71.1 L382.8,69.7 L383.5,68.7 L384.3,67.6 L385.0,67.1 L385.8,67.5 L386.6,66.1 L387.4,65.6 L388.3,65.2 L389.2,65.0 L390.0,64.8 L390.6,63.9 L391.2,63.5 L391.8,61.7 L392.4,60.9 L393.0,61.3 L393.7,59.8 L394.3,59.6 L395.0,58.2 L395.8,57.1 L396.5,56.4 L397.3,55.4 L398.1,55.8 L398.9,54.6 L399.7,53.6 L400.6,53.1 L401.4,52.4 L402.3,51.4 L403.2,52.1 L404.1,51.1 L405.1,51.2 L406.0,49.9 L407.0,49.7 L408.0,48.7 L409.0,47.9 L410.1,48.8 L411.1,48.3 L412.1,47.0 L413.1,47.5 L414.1,47.0 L415.0,45.9 L416.0,46.0 L416.9,46.3 L417.9,45.3 L419.0,45.7 L420.1,44.4 L421.3,44.4 L422.5,44.7 L423.6,43.8 L424.8,43.8 L425.8,44.6 L426.9,43.9 L427.8,44.4 L428.7,43.5 L429.6,43.4 L430.4,43.6 L431.1,43.5 L431.7,45.0 L432.1,44.7 L432.3,45.9 L432.3,46.2 L432.3,47.8 L432.3,48.6 L432.3,49.7 L432.4,50.2 L432.4,51.3 L432.4,53.3 L432.4,53.6 L432.4,54.5 L432.4,55.4 L432.4,56.5 L432.4,57.5 L432.4,58.2 L432.4,60.1 L432.4,60.7 L432.4,61.4 L432.4,63.2 L432.4,63.3 L432.5,64.6 L432.5,66.4 L432.5,66.4 L432.5,67.9 L432.5,69.5 L432.5,70.5 L432.6,70.6 L432.8,72.0 L433.2,73.6 L433.9,74.1 L434.8,75.7 L435.9,75.2 L437.1,76.7 L438.3,76.1 L439.3,75.6 L440.2,75.5 L440.8,74.4 L441.2,74.4 L441.5,72.7 L441.7,72.5 L442.0,70.9 L442.4,69.6 L442.8,68.4 L443.4,68.0 L444.0,66.5 L444.6,66.5 L445.2,64.4 L445.8,63.9 L446.3,62.9 L446.8,61.4 L447.3,61.1 L447.9,59.6 L448.6,59.3 L449.4,58.7 L450.3,57.9 L451.2,57.6 L451.9,56.6 L452.5,56.1 L452.9,56.4 L453.2,54.8 L453.5,54.4 L453.8,52.6 L454.1,52.3 L454.4,51.0 L454.7,50.2 L455.0,48.8 L455.3,47.3 L455.6,46.6 L455.9,45.4 L456.2,44.2 L456.5,44.0 L456.8,42.3 L457.1,41.3 L457.4,40.9 L457.7,39.6 L457.9,38.5 L458.2,37.3 L458.5,35.0 L458.8,34.2 L459.1,32.7 L459.3,32.8 L459.6,31.9 L459.8,30.7 L460.0,30.3 L460.3,30.3 L460.6,30.5 L460.9,30.4 L461.2,32.3 L461.4,33.0 L461.6,34.8 L461.7,35.4 L461.8,36.4 L461.9,38.7 L461.9,39.5 L461.9,40.6 L462.0,40.8 L462.0,42.0 L462.1,43.5 L462.1,44.7 L462.1,46.1 L462.2,47.3 L462.2,47.9 L462.3,49.2 L462.4,50.5 L462.5,50.4 L462.8,51.7 L463.2,51.2 L463.9,50.9 L464.7,49.7 L465.6,49.7 L466.5,50.0 L467.5,49.7 L468.6,49.5 L469.7,51.2 L470.7,51.6 L471.7,51.3 L472.5,51.4 L473.2,53.1 L473.9,53.2 L474.5,52.9 L475.2,53.7 L475.9,54.2 L476.8,55.9 L477.7,55.8 L478.7,57.7 L479.6,58.3 L480.4,57.9 L481.1,59.4 L481.8,59.5 L482.4,60.6 L483.1,61.2 L483.7,61.0 L484.4,61.3 L485.1,63.2 L485.8,63.0 L486.6,64.4 L487.4,64.7 L488.1,65.4 L488.9,66.2 L489.7,66.6 L490.6,67.0 L491.4,67.1 L492.3,68.8 L493.1,69.1 L494.0,69.9 L494.9,71.3 L495.8,70.8 L496.7,72.5 L497.7,72.1 L498.6,73.8 L499.5,74.7 L500.4,74.5 L501.2,75.6 L501.9,76.8 L502.7,76.8 L503.5,77.2 L504.3,77.4 L505.1,77.6 L505.9,78.7 L506.7,79.3 L507.6,79.6 L508.4,80.3 L509.3,80.7 L510.2,82.1 L511.1,82.7 L511.9,82.6 L512.8,83.2 L513.7,84.2 L514.6,84.7 L515.5,86.1 L516.4,85.8 L517.3,86.3 L518.2,87.8 L519.1,87.3 L519.9,88.6 L520.8,88.8 L521.7,90.1 L522.5,90.3 L523.3,91.3 L524.2,91.0 L525.0,92.3 L525.7,92.8 L526.5,93.2 L527.2,94.2 L528.0,94.9 L528.7,94.4 L529.4,95.3 L530.1,96.0 L531.0,96.6 L531.8,97.1 L532.6,98.3 L533.4,99.0 L534.2,100.6 L535.0,101.0 L535.7,101.3 L536.4,102.5 L537.1,103.5 L537.7,104.2 L538.4,104.7 L539.0,105.4 L539.6,106.1 L540.2,108.3 L540.8,108.8 L541.4,108.5 L542.0,110.2 L542.5,111.4 L543.1,111.5 L543.7,111.6 L544.3,112.9 L544.9,113.5 L545.5,113.9 L546.2,115.1 L546.9,115.1 L547.6,117.2 L548.4,117.6 L549.1,118.3 L549.8,119.4 L550.5,119.7 L551.2,119.7 L551.9,120.4 L552.6,120.9 L553.3,121.3 L554.0,123.1 L554.7,123.9 L555.4,123.7 L556.1,124.3 L556.9,125.7 L557.6,126.8 L558.4,127.7 L559.1,127.4 L559.9,129.1 L560.5,129.5 L561.2,130.2 L561.8,130.7 L562.4,131.4 L563.0,132.4 L563.6,132.9 L564.3,133.7 L564.9,134.6 L565.5,135.3 L566.2,136.3 L566.8,136.8 L567.5,137.5 L568.1,138.6 L568.8,139.5 L569.4,140.4 L570.1,141.2 L570.8,142.1 L571.5,142.9 L572.2,143.6 L572.9,144.4 L573.6,145.0 L574.3,145.9 L575.0,146.9 L575.7,147.4 L576.4,148.5 L577.2,149.0 L577.9,149.9 L578.6,150.9 L579.3,151.2 L580.0,151.9 L580.7,152.8 L581.4,153.4 L582.2,154.4 L582.9,154.8 L583.6,155.9 L584.4,156.6 L585.1,157.3 L585.9,157.8 L586.6,158.5 L587.4,159.4 L588.1,160.0 L588.9,160.7 L589.7,161.3 L590.4,162.1 L591.2,162.9 L592.0,163.7 L592.8,164.4 L593.6,164.7 L594.4,165.4 L595.2,166.2 L596.0,166.9 L596.8,167.4 L597.6,168.0 L598.4,168.6 L599.2,169.4 L600.0,170.1 L600.9,171.0 L601.7,171.6 L602.6,172.2 L603.5,172.9 L604.4,173.5 L605.3,174.0 L606.3,174.8 L607.2,175.0 L608.2,176.0 L609.2,176.6 L610.1,177.1 L611.1,177.8 L612.1,178.7 L613.1,179.0 L614.0,179.7 L615.0,180.1 L615.9,180.7 L616.8,181.6 L617.7,181.7 L618.6,182.3 L619.4,183.1 L620.2,183.5 L621.0,183.8 L621.8,184.5 L622.5,184.8 L623.2,185.3 L623.9,185.7 L624.7,186.2 L625.8,186.9 L626.9,187.5 L628.1,187.9 L629.0,188.3 L629.8,188.8 L630.6,188.6 L631.6,188.3 L632.6,188.4 L633.7,187.8 L634.8,187.5 L635.9,187.6 L637.0,187.5 L638.1,187.9 L639.2,188.4 L640.2,188.8 L641.1,189.7 L642.0,190.3 L642.9,191.3 L643.7,192.1 L644.6,192.7 L645.5,193.6 L646.5,194.2 L647.5,195.0 L648.6,195.8 L649.7,196.2 L650.8,196.7 L651.9,197.2 L653.1,197.2 L654.3,197.9 L655.4,197.9 L656.6,197.4 L657.7,197.5 L658.8,196.8 L659.6,196.2 L660.7,195.4" fill="none" stroke="#e61c1c" stroke-width="1.6" stroke-linejoin="round" stroke-linecap="round"/>
<path d="M376.3,80.5 L376.4,80.2 L376.5,78.8 L376.7,78.1 L376.8,76.0 L377.0,75.8 L377.2,73.5 L377.3,72.6 L377.6,71.7 L377.8,70.1 L378.0,70.0 L378.3,68.4 L378.7,67.5 L379.0,67.2 L379.3,65.8 L379.7,65.4 L380.1,64.0 L380.5,63.4 L381.0,62.0 L381.4,61.6 L382.0,60.6 L382.6,58.7 L383.4,58.7 L384.2,57.3 L385.0,57.2 L385.9,56.4 L386.8,55.9 L387.7,54.1 L388.6,53.7 L389.5,53.5 L390.3,53.1 L391.1,52.0 L391.9,50.3 L392.6,50.3 L393.4,48.7 L394.2,48.6 L394.8,48.2 L395.5,46.3 L396.1,46.7 L396.8,45.5 L397.4,44.0 L398.1,43.1 L398.8,42.7 L399.4,42.5 L400.1,41.3 L400.7,39.9 L401.5,39.0 L402.3,38.5 L403.1,39.0 L404.1,37.6 L405.1,37.7 L406.0,37.1 L407.0,37.5 L407.9,36.8 L408.9,36.3 L409.9,37.3 L411.0,36.7 L412.1,36.8 L413.3,36.8 L414.4,36.9 L415.5,35.4 L416.6,35.8 L417.7,35.4 L418.8,35.8 L419.9,36.2 L421.0,36.0 L422.2,34.7 L423.3,34.8 L424.5,35.6 L425.6,35.3 L426.7,34.7 L427.7,34.7 L428.6,34.1 L429.5,35.1 L430.3,34.4 L431.1,35.2 L431.7,35.2 L432.1,35.0 L432.2,36.2 L432.3,37.0 L432.3,39.1 L432.3,39.6 L432.3,39.8 L432.3,41.0 L432.4,42.4 L432.4,43.5 L432.4,44.7 L432.4,45.5 L432.4,46.4 L432.4,46.9 L432.4,48.8 L432.4,49.5 L432.4,50.0 L432.4,51.7 L432.4,53.5 L432.4,53.1 L432.4,54.3 L432.4,56.1 L432.4,56.5 L432.5,57.5 L432.5,58.9 L432.5,59.5 L432.5,61.0 L432.5,62.0 L432.5,63.6 L432.7,64.6 L433.1,64.1 L433.7,65.6 L434.6,66.4 L435.6,66.7 L436.5,66.3 L437.4,65.7 L438.2,65.0 L439.0,63.7 L439.7,62.7 L440.4,62.5 L441.0,61.8 L441.6,61.0 L442.1,59.8 L442.6,58.4 L443.0,58.1 L443.5,57.1 L444.0,55.8 L444.4,54.9 L444.8,53.4 L445.2,52.7 L445.5,51.5 L445.8,49.9 L446.0,49.3 L446.3,48.2 L446.5,48.1 L446.7,46.2 L446.9,44.9 L447.1,43.6 L447.3,42.5 L447.5,41.6 L447.7,40.3 L448.0,39.2 L448.3,39.6 L448.9,37.9 L449.6,37.0 L450.4,36.4 L451.3,35.6 L452.0,35.6 L452.4,36.2 L452.7,37.6 L452.9,38.5 L453.1,39.5 L453.4,39.1 L453.7,39.1 L454.0,37.3 L454.4,37.0 L454.8,35.3 L455.2,33.3 L455.6,32.2 L456.0,31.7 L456.4,31.2 L456.9,29.1 L457.5,28.8 L458.2,27.4 L458.9,27.5 L459.6,26.1 L460.1,26.9 L460.4,28.1 L460.6,28.0 L460.7,28.9 L460.9,29.6 L461.0,31.0 L461.1,32.3 L461.3,34.2 L461.4,34.7 L461.5,36.1 L461.6,36.9 L461.7,38.7 L461.8,40.2 L461.9,41.1 L461.9,41.7 L462.0,43.7 L462.1,45.3 L462.1,45.8 L462.2,46.0 L462.3,47.8 L462.4,48.4 L462.6,47.8 L462.8,47.1 L463.0,46.4 L463.4,45.7 L463.8,45.0 L464.3,43.7 L464.9,43.6 L465.5,42.4 L466.3,42.9 L467.1,44.1 L468.0,44.6 L469.0,45.1 L469.9,46.4 L470.9,46.7 L471.8,47.0 L472.6,48.1 L473.4,48.1 L474.1,49.4 L474.8,49.5 L475.6,50.2 L476.5,51.0 L477.5,51.2 L478.6,52.2 L479.6,52.3 L480.5,54.3 L481.2,54.3 L482.0,55.5 L482.7,54.7 L483.5,56.1 L484.3,56.9 L485.1,57.0 L486.0,57.3 L486.9,58.1 L487.8,58.8 L488.7,60.4 L489.6,60.1 L490.5,62.0 L491.5,62.1 L492.4,63.0 L493.3,63.8 L494.1,64.4 L495.0,65.2 L495.8,65.8 L496.6,66.0 L497.4,67.3 L498.1,67.1 L498.8,68.3 L499.5,69.0 L500.3,69.7 L501.1,69.7 L501.8,71.0 L502.5,72.0 L503.0,71.7 L503.5,71.9 L504.0,72.8 L504.7,74.0 L505.6,73.5 L506.4,74.0 L507.2,75.3 L508.0,76.0 L508.6,76.6 L509.3,76.5 L510.0,77.9 L510.8,77.2 L511.6,78.4 L512.4,77.9 L513.2,78.3 L514.0,79.0 L514.9,79.4 L515.8,80.6 L516.7,81.2 L517.6,81.2 L518.5,83.0 L519.4,82.7 L520.3,82.9 L521.3,83.6 L522.2,85.0 L523.1,85.9 L524.0,85.4 L524.9,85.9 L525.8,87.7 L526.7,87.5 L527.5,89.3 L528.4,89.3 L529.2,90.2 L529.9,90.4 L530.7,91.8 L531.4,92.0 L532.1,92.5 L532.8,94.1 L533.5,93.7 L534.2,95.4 L534.9,95.2 L535.6,96.9 L536.3,97.4 L537.0,98.9 L537.7,98.6 L538.4,100.2 L539.1,100.9 L539.8,102.5 L540.5,103.4 L541.2,103.8 L541.8,104.1 L542.5,105.0 L543.1,105.8 L543.8,106.9 L544.4,107.5 L545.0,108.2 L545.6,109.9 L546.2,110.5 L546.8,110.7 L547.4,112.5 L547.9,112.0 L548.5,113.2 L549.0,113.3 L549.6,115.0 L550.2,115.8 L551.0,115.8 L551.8,117.4 L552.5,118.3 L553.2,118.2 L553.8,118.9 L554.4,119.7 L554.9,120.9 L555.5,120.3 L556.1,121.7 L556.7,122.2 L557.4,122.7 L558.2,123.7 L559.0,125.0 L559.7,124.9 L560.4,126.3 L561.0,126.7 L561.6,127.5 L562.2,128.2 L562.8,128.6 L563.4,129.6 L564.0,130.4 L564.6,130.8 L565.3,131.4 L566.0,132.3 L566.6,133.5 L567.3,133.8 L568.0,135.1 L568.7,135.5 L569.4,136.7 L570.2,137.2 L570.9,138.1 L571.6,139.2 L572.3,139.7 L573.1,140.7 L573.8,141.8 L574.5,142.5 L575.3,143.4 L576.0,144.3 L576.7,144.6 L577.4,145.5 L578.1,146.6 L578.8,147.3 L579.4,147.7 L580.1,148.6 L580.8,149.2 L581.5,150.0 L582.2,150.6 L583.0,151.4 L583.7,152.6 L584.5,153.1 L585.2,154.1 L585.9,154.4 L586.6,155.3 L587.3,155.9 L588.0,156.7 L588.7,157.3 L589.4,158.2 L590.1,158.6 L590.8,159.5 L591.5,160.1 L592.2,160.5 L593.0,161.3 L593.7,162.0 L594.4,162.9 L595.2,163.3 L595.9,163.9 L596.7,164.9 L597.5,165.5 L598.3,166.1 L599.1,166.6 L599.9,167.2 L600.7,167.9 L601.5,168.4 L602.3,169.0 L603.2,169.9 L604.0,170.5 L604.9,171.2 L605.7,171.8 L606.6,172.3 L607.5,173.3 L608.5,174.0 L609.4,174.6 L610.3,175.3 L611.2,176.1 L612.2,176.9 L613.1,177.5 L614.0,178.1 L614.9,178.6 L615.8,179.2 L616.7,179.8 L617.6,180.7 L618.5,181.0 L619.3,181.6 L620.1,182.2 L620.9,182.6 L621.7,183.5 L622.4,183.5 L623.1,184.3 L623.8,184.9 L624.6,185.1 L625.5,185.8 L626.7,186.4 L627.8,186.9 L628.9,187.4 L629.9,187.7 L630.7,188.3 L631.5,188.5 L632.3,188.8 L633.1,188.6 L633.9,189.3 L634.8,189.5 L635.7,190.1 L636.6,190.5 L637.5,190.8 L638.4,191.6 L639.3,191.6 L640.2,192.4 L641.1,192.9 L642.0,193.2 L643.0,193.6 L643.9,194.2 L644.9,194.3 L645.9,194.8 L646.9,195.2 L647.8,195.4 L648.8,195.9 L649.8,196.0 L650.8,196.4 L651.8,196.7 L652.9,197.1 L654.0,197.2 L655.1,197.6 L656.2,197.8 L657.3,197.9 L658.3,198.3 L659.1,198.3 L659.8,198.8 L660.7,198.8" fill="none" stroke="#1c2ca6" stroke-width="1.6" stroke-linejoin="round" stroke-linecap="round"/>
<line x1="35.60" y1="244.30" x2="35.60" y2="423.40" stroke="#505050" stroke-width="1.3"/>
<line x1="35.60" y1="423.40" x2="311.50" y2="423.40" stroke="#505050" stroke-width="1.3"/>
<line x1="33.10" y1="423.40" x2="35.60" y2="423.40" stroke="#505050" stroke-width="1.0"/>
<text x="26.85" y="425.50" font-size="6.2" font-weight="normal" fill="#1a1a1a" textLength="3.05" lengthAdjust="spacingAndGlyphs" stroke="#1a1a1a" stroke-width="0.15">0</text>
<line x1="33.10" y1="405.51" x2="35.60" y2="405.51" stroke="#505050" stroke-width="1.0"/>
<text x="20.75" y="407.61" font-size="6.2" font-weight="normal" fill="#1a1a1a" textLength="9.15" lengthAdjust="spacingAndGlyphs" stroke="#1a1a1a" stroke-width="0.15">100</text>
<line x1="33.10" y1="387.62" x2="35.60" y2="387.62" stroke="#505050" stroke-width="1.0"/>
<text x="20.75" y="389.72" font-size="6.2" font-weight="normal" fill="#1a1a1a" textLength="9.15" lengthAdjust="spacingAndGlyphs" stroke="#1a1a1a" stroke-width="0.15">200</text>
<line x1="33.10" y1="369.73" x2="35.60" y2="369.73" stroke="#505050" stroke-width="1.0"/>
<text x="20.75" y="371.83" font-size="6.2" font-weight="normal" fill="#1a1a1a" textLength="9.15" lengthAdjust="spacingAndGlyphs" stroke="#1a1a1a" stroke-width="0.15">300</text>
<line x1="33.10" y1="351.84" x2="35.60" y2="351.84" stroke="#505050" stroke-width="1.0"/>
<text x="20.75" y="353.94" font-size="6.2" font-weight="normal" fill="#1a1a1a" textLength="9.15" lengthAdjust="spacingAndGlyphs" stroke="#1a1a1a" stroke-width="0.15">400</text>
<line x1="33.10" y1="333.95" x2="35.60" y2="333.95" stroke="#505050" stroke-width="1.0"/>
<text x="20.75" y="336.05" font-size="6.2" font-weight="normal" fill="#1a1a1a" textLength="9.15" lengthAdjust="spacingAndGlyphs" stroke="#1a1a1a" stroke-width="0.15">500</text>
<line x1="33.10" y1="316.06" x2="35.60" y2="316.06" stroke="#505050" stroke-width="1.0"/>
<text x="20.75" y="318.16" font-size="6.2" font-weight="normal" fill="#1a1a1a" textLength="9.15" lengthAdjust="spacingAndGlyphs" stroke="#1a1a1a" stroke-width="0.15">600</text>
<line x1="33.10" y1="298.17" x2="35.60" y2="298.17" stroke="#505050" stroke-width="1.0"/>
<text x="20.75" y="300.27" font-size="6.2" font-weight="normal" fill="#1a1a1a" textLength="9.15" lengthAdjust="spacingAndGlyphs" stroke="#1a1a1a" stroke-width="0.15">700</text>
<line x1="33.10" y1="280.28" x2="35.60" y2="280.28" stroke="#505050" stroke-width="1.0"/>
<text x="20.75" y="282.38" font-size="6.2" font-weight="normal" fill="#1a1a1a" textLength="9.15" lengthAdjust="spacingAndGlyphs" stroke="#1a1a1a" stroke-width="0.15">800</text>
<line x1="33.10" y1="262.39" x2="35.60" y2="262.39" stroke="#505050" stroke-width="1.0"/>
<text x="20.75" y="264.49" font-size="6.2" font-weight="normal" fill="#1a1a1a" textLength="9.15" lengthAdjust="spacingAndGlyphs" stroke="#1a1a1a" stroke-width="0.15">900</text>
<line x1="33.10" y1="244.50" x2="35.60" y2="244.50" stroke="#505050" stroke-width="1.0"/>
<text x="17.70" y="246.60" font-size="6.2" font-weight="normal" fill="#1a1a1a" textLength="12.20" lengthAdjust="spacingAndGlyphs" stroke="#1a1a1a" stroke-width="0.15">1000</text>
<line x1="35.60" y1="423.40" x2="35.60" y2="425.60" stroke="#505050" stroke-width="1.0"/>
<text x="34.05" y="431.80" font-size="6.2" font-weight="normal" fill="#1a1a1a" textLength="3.10" lengthAdjust="spacingAndGlyphs" stroke="#1a1a1a" stroke-width="0.15">2</text>
<line x1="63.19" y1="423.40" x2="63.19" y2="425.60" stroke="#505050" stroke-width="1.0"/>
<text x="57.79" y="431.80" font-size="6.2" font-weight="normal" fill="#1a1a1a" textLength="10.80" lengthAdjust="spacingAndGlyphs" stroke="#1a1a1a" stroke-width="0.15">2.05</text>
<line x1="90.78" y1="423.40" x2="90.78" y2="425.60" stroke="#505050" stroke-width="1.0"/>
<text x="86.93" y="431.80" font-size="6.2" font-weight="normal" fill="#1a1a1a" textLength="7.70" lengthAdjust="spacingAndGlyphs" stroke="#1a1a1a" stroke-width="0.15">2.1</text>
<line x1="118.37" y1="423.40" x2="118.37" y2="425.60" stroke="#505050" stroke-width="1.0"/>
<text x="112.97" y="431.80" font-size="6.2" font-weight="normal" fill="#1a1a1a" textLength="10.80" lengthAdjust="spacingAndGlyphs" stroke="#1a1a1a" stroke-width="0.15">2.15</text>
<line x1="145.96" y1="423.40" x2="145.96" y2="425.60" stroke="#505050" stroke-width="1.0"/>
<text x="142.11" y="431.80" font-size="6.2" font-weight="normal" fill="#1a1a1a" textLength="7.70" lengthAdjust="spacingAndGlyphs" stroke="#1a1a1a" stroke-width="0.15">2.2</text>
<line x1="173.55" y1="423.40" x2="173.55" y2="425.60" stroke="#505050" stroke-width="1.0"/>
<text x="168.15" y="431.80" font-size="6.2" font-weight="normal" fill="#1a1a1a" textLength="10.80" lengthAdjust="spacingAndGlyphs" stroke="#1a1a1a" stroke-width="0.15">2.25</text>
<line x1="201.14" y1="423.40" x2="201.14" y2="425.60" stroke="#505050" stroke-width="1.0"/>
<text x="197.29" y="431.80" font-size="6.2" font-weight="normal" fill="#1a1a1a" textLength="7.70" lengthAdjust="spacingAndGlyphs" stroke="#1a1a1a" stroke-width="0.15">2.3</text>
<line x1="228.73" y1="423.40" x2="228.73" y2="425.60" stroke="#505050" stroke-width="1.0"/>
<text x="223.33" y="431.80" font-size="6.2" font-weight="normal" fill="#1a1a1a" textLength="10.80" lengthAdjust="spacingAndGlyphs" stroke="#1a1a1a" stroke-width="0.15">2.35</text>
<line x1="256.32" y1="423.40" x2="256.32" y2="425.60" stroke="#505050" stroke-width="1.0"/>
<text x="252.47" y="431.80" font-size="6.2" font-weight="normal" fill="#1a1a1a" textLength="7.70" lengthAdjust="spacingAndGlyphs" stroke="#1a1a1a" stroke-width="0.15">2.4</text>
<line x1="283.91" y1="423.40" x2="283.91" y2="425.60" stroke="#505050" stroke-width="1.0"/>
<text x="278.51" y="431.80" font-size="6.2" font-weight="normal" fill="#1a1a1a" textLength="10.80" lengthAdjust="spacingAndGlyphs" stroke="#1a1a1a" stroke-width="0.15">2.45</text>
<line x1="311.50" y1="423.40" x2="311.50" y2="425.60" stroke="#505050" stroke-width="1.0"/>
<text x="307.65" y="431.80" font-size="6.2" font-weight="normal" fill="#1a1a1a" textLength="7.70" lengthAdjust="spacingAndGlyphs" stroke="#1a1a1a" stroke-width="0.15">2.5</text>
<text x="5.40" y="237.00" font-size="12.4" font-weight="bold" fill="#111" textLength="16.40" lengthAdjust="spacingAndGlyphs" stroke="#111" stroke-width="0.7">(c)</text>
<text x="154.90" y="442.90" font-size="8.2" font-weight="bold" fill="#1a1a1a" textLength="26.30" lengthAdjust="spacingAndGlyphs" stroke="#1a1a1a" stroke-width="0.3">hv (eV)</text>
<text x="0" y="0" font-size="7.8" font-weight="bold" fill="#1a1a1a" textLength="35.00" lengthAdjust="spacingAndGlyphs" transform="translate(8.60,350.70) rotate(-90)" stroke="#1a1a1a" stroke-width="0.3">(F(R)* hv)<tspan font-size='5' dy='-3'>2</tspan></text>
<line x1="55.90" y1="261.40" x2="66.10" y2="261.40" stroke="#e414c8" stroke-width="1.3"/>
<text x="66.20" y="264.00" font-size="6.9" font-weight="normal" fill="#1a1a1a" textLength="22.50" lengthAdjust="spacingAndGlyphs" stroke="#1a1a1a" stroke-width="0.15">BiFeO<tspan font-size='4.2' dy='0.5'>3</tspan></text>
<line x1="55.90" y1="279.70" x2="66.10" y2="279.70" stroke="#28dc28" stroke-width="1.3"/>
<text x="66.20" y="282.30" font-size="6.9" font-weight="normal" fill="#1a1a1a" textLength="33.50" lengthAdjust="spacingAndGlyphs" stroke="#1a1a1a" stroke-width="0.15">Gd-BiFeO<tspan font-size='4.2' dy='0.5'>3</tspan></text>
<line x1="55.90" y1="297.60" x2="66.10" y2="297.60" stroke="#e61c1c" stroke-width="1.3"/>
<text x="66.20" y="300.20" font-size="6.9" font-weight="normal" fill="#1a1a1a" textLength="33.50" lengthAdjust="spacingAndGlyphs" stroke="#1a1a1a" stroke-width="0.15">Nd-BiFeO<tspan font-size='4.2' dy='0.5'>3</tspan></text>
<line x1="55.90" y1="315.30" x2="66.10" y2="315.30" stroke="#1c2ca6" stroke-width="1.3"/>
<text x="66.20" y="317.90" font-size="6.9" font-weight="normal" fill="#1a1a1a" textLength="31.10" lengthAdjust="spacingAndGlyphs" stroke="#1a1a1a" stroke-width="0.15">Pr-BiFeO<tspan font-size='4.2' dy='0.5'>3</tspan></text>
<line x1="96.60" y1="423.40" x2="190.00" y2="297.31" stroke="#e414c8" stroke-width="0.7"/>
<line x1="92.20" y1="423.40" x2="245.00" y2="301.16" stroke="#28dc28" stroke-width="0.7"/>
<line x1="98.90" y1="423.40" x2="216.00" y2="388.50" stroke="#e61c1c" stroke-width="0.7"/>
<line x1="122.90" y1="423.40" x2="190.00" y2="388.51" stroke="#2050c0" stroke-width="0.7"/>
<path d="M35.9,409.8 L36.5,409.6 L37.2,409.5 L38.0,409.2 L38.9,409.0 L39.9,408.6 L41.0,408.3 L42.1,408.3 L43.3,407.9 L44.5,407.5 L45.6,407.2 L46.8,407.0 L47.9,406.5 L49.0,406.2 L50.0,406.1 L51.0,405.7 L52.1,405.4 L53.1,405.2 L54.1,404.9 L55.1,404.6 L56.1,404.1 L57.1,403.9 L58.1,403.7 L59.1,403.4 L60.1,402.8 L61.1,402.5 L62.0,402.3 L63.0,401.9 L64.0,401.6 L65.1,401.4 L66.1,400.9 L67.1,400.5 L68.2,400.0 L69.2,399.7 L70.2,399.5 L71.2,399.0 L72.2,398.6 L73.1,398.2 L74.1,397.9 L75.0,397.6 L76.1,397.0 L77.2,396.8 L78.3,396.3 L79.3,396.0 L80.4,395.5 L81.4,395.2 L82.4,394.9 L83.3,394.6 L84.2,394.2 L85.0,393.9 L86.2,393.6 L87.1,393.1 L87.9,392.8 L88.7,392.6 L89.6,392.0 L90.9,391.4 L91.7,391.1 L92.5,390.8 L93.5,390.2 L94.5,389.9 L95.5,389.5 L96.5,388.8 L97.6,388.3 L98.6,388.0 L99.7,387.4 L100.6,386.9 L101.5,386.3 L102.3,386.0 L103.3,385.4 L104.1,385.0 L104.8,384.4 L105.4,384.0 L106.0,383.6 L106.8,383.1 L107.8,382.3 L109.0,381.5 L109.6,381.1 L110.4,380.7 L111.1,380.0 L111.9,379.8 L112.8,379.2 L113.6,378.5 L114.5,378.0 L115.4,377.4 L116.4,376.7 L117.3,376.3 L118.3,375.5 L119.2,375.0 L120.2,374.3 L121.1,373.8 L122.0,373.1 L122.9,372.2 L123.8,371.7 L124.6,371.0 L125.4,370.3 L126.2,369.7 L127.0,368.8 L127.8,368.1 L128.6,367.4 L129.4,366.5 L130.2,365.7 L131.0,364.9 L131.8,364.2 L132.6,363.3 L133.3,362.5 L134.0,361.6 L134.7,360.8 L135.4,360.2 L136.1,359.5 L136.7,358.8 L137.3,358.2 L137.9,357.4 L138.8,356.4 L139.7,355.5 L140.4,354.9 L141.0,354.0 L141.7,353.3 L142.2,352.9 L142.8,352.2 L143.4,351.4 L144.0,350.8 L144.7,350.1 L145.4,349.2 L146.1,348.3 L146.8,347.7 L147.5,346.8 L148.3,346.0 L149.0,345.3 L149.7,344.5 L150.4,343.7 L151.1,342.7 L151.7,341.9 L152.3,341.3 L153.0,340.1 L153.7,339.4 L154.3,338.2 L154.8,337.2 L155.3,336.3 L155.8,335.5 L156.3,334.9 L156.8,334.1 L157.7,333.2 L158.6,332.6 L159.4,332.0 L160.4,331.3 L161.1,330.9 L161.8,330.1 L162.6,329.4 L163.4,328.4 L164.2,327.5 L165.0,326.7 L165.7,326.1 L166.5,325.3 L167.2,324.6 L167.9,324.0 L168.6,323.3 L169.3,322.5 L170.0,321.7 L170.6,320.8 L171.1,320.2 L171.7,319.2 L172.3,318.2 L172.9,317.3 L173.6,316.4 L174.3,315.4 L175.0,314.5 L175.6,313.7 L176.3,312.9 L177.0,312.2 L177.7,311.2 L178.5,310.5 L179.2,309.7 L180.0,308.8 L180.7,308.0 L181.3,307.4 L182.0,306.6 L182.5,306.1 L183.7,304.6 L184.6,303.9 L185.3,303.2 L186.0,302.4 L186.9,301.8 L187.7,300.9 L188.4,300.0 L188.8,299.1 L189.0,298.3 L189.3,297.1 L189.8,296.1 L190.4,294.9 L191.0,294.3 L191.7,293.7 L192.5,292.9 L193.3,292.3 L194.2,291.8 L195.0,290.9 L195.7,290.5 L196.4,289.5 L197.0,288.5 L197.6,287.5 L198.1,286.6 L198.5,285.5 L199.0,284.4 L199.4,283.6 L199.8,282.8 L201.2,282.8 L202.5,282.7 L202.9,281.8 L203.2,280.8 L203.5,279.8 L203.8,278.5 L204.1,277.7 L204.5,276.7 L205.4,276.4 L207.1,275.5 L207.6,274.9 L208.1,274.4 L208.7,273.5 L209.3,273.0 L209.9,271.9 L210.6,271.2 L211.3,270.0 L212.0,269.3 L212.7,268.4 L213.4,267.3 L214.1,266.3 L214.7,265.5 L215.2,264.8 L215.8,263.8 L216.4,263.0 L216.9,261.9 L217.4,261.2 L217.9,260.4 L218.4,259.5 L218.8,258.8 L219.4,257.7 L219.9,257.1 L220.5,256.0 L221.1,255.4 L221.8,254.5 L222.5,253.5 L223.2,252.4 L223.9,251.4 L224.6,250.4 L225.4,249.6 L226.1,248.7 L226.7,248.1 L227.3,247.1 L227.9,246.7 L229.2,245.8 L230.4,245.3 L231.3,245.2 L231.9,245.1" fill="none" stroke="#e414c8" stroke-width="1.6" stroke-linejoin="round" stroke-linecap="round"/>
<path d="M35.9,414.0 L36.5,413.8 L37.2,413.7 L38.0,413.6 L38.9,413.6 L39.9,413.4 L41.0,413.0 L42.1,413.0 L43.3,412.6 L44.5,412.5 L45.6,412.4 L46.8,412.0 L47.9,412.0 L49.0,411.7 L50.0,411.4 L51.0,411.3 L52.1,411.1 L53.1,410.9 L54.1,410.8 L55.1,410.5 L56.1,410.5 L57.1,410.1 L58.1,409.9 L59.1,409.8 L60.1,409.5 L61.1,409.4 L62.0,409.3 L63.0,409.0 L64.0,408.8 L64.9,408.4 L65.8,408.4 L66.7,408.0 L67.5,408.0 L68.3,407.6 L69.2,407.6 L70.2,407.2 L71.2,407.0 L72.4,406.8 L73.6,406.3 L75.0,405.9 L75.8,405.9 L76.6,405.5 L77.4,405.5 L78.3,405.2 L79.2,404.9 L80.1,404.5 L81.1,404.3 L82.1,404.2 L83.1,403.7 L84.1,403.6 L85.1,403.3 L86.2,402.9 L87.2,402.7 L88.3,402.3 L89.3,402.2 L90.4,401.9 L91.5,401.5 L92.5,401.2 L93.5,400.9 L94.5,400.5 L95.5,400.2 L96.5,399.9 L97.5,399.8 L98.4,399.4 L99.4,399.2 L100.5,398.5 L101.5,398.5 L102.5,398.0 L103.4,397.7 L104.4,397.3 L105.4,396.9 L106.3,396.4 L107.3,396.2 L108.2,395.6 L109.2,395.3 L110.1,394.8 L111.1,394.5 L112.0,394.2 L113.0,393.7 L113.9,393.5 L114.9,392.8 L115.8,392.5 L116.8,392.0 L117.8,391.7 L118.8,391.3 L119.7,390.8 L120.6,390.2 L121.5,389.9 L122.4,389.5 L123.4,389.2 L124.3,388.5 L125.2,388.2 L126.2,387.8 L127.1,387.3 L128.1,386.7 L129.0,386.4 L129.9,385.8 L130.9,385.5 L131.8,384.8 L132.7,384.5 L133.7,383.9 L134.6,383.4 L135.5,382.8 L136.4,382.4 L137.3,382.0 L138.2,381.5 L139.1,380.9 L140.0,380.5 L140.9,379.9 L141.8,379.4 L142.8,378.8 L143.7,378.3 L144.6,377.9 L145.5,377.4 L146.4,376.7 L147.4,376.1 L148.3,375.5 L149.2,375.0 L150.1,374.5 L150.9,373.9 L151.8,373.3 L152.7,372.6 L153.5,372.1 L154.3,371.7 L155.1,371.1 L155.9,370.4 L156.7,370.0 L157.5,369.4 L158.2,368.9 L158.9,368.6 L159.9,367.9 L160.8,367.3 L161.6,366.5 L162.3,366.3 L163.0,365.8 L163.7,365.3 L164.3,364.8 L165.0,364.4 L165.6,363.8 L166.4,363.2 L167.2,362.5 L168.2,361.9 L169.3,361.0 L170.5,360.1 L171.1,359.5 L171.7,359.2 L172.4,358.6 L173.0,358.2 L173.8,357.4 L174.5,357.1 L175.2,356.4 L176.0,355.7 L176.8,355.2 L177.6,354.4 L178.4,353.8 L179.3,353.2 L180.1,352.5 L180.9,351.9 L181.8,351.3 L182.7,350.6 L183.5,349.9 L184.4,349.1 L185.3,348.6 L186.2,347.9 L187.0,347.2 L187.9,346.5 L188.7,345.8 L189.6,345.0 L190.4,344.3 L191.2,343.8 L192.0,343.2 L192.8,342.4 L193.6,341.8 L194.4,341.3 L195.1,340.7 L195.8,339.9 L196.7,339.3 L197.6,338.4 L198.4,337.7 L199.3,337.1 L200.1,336.3 L201.0,335.6 L201.8,334.8 L202.6,334.1 L203.4,333.3 L204.2,332.7 L205.0,332.1 L205.8,331.3 L206.6,330.5 L207.3,329.8 L208.1,329.2 L208.8,328.6 L209.5,327.9 L210.2,327.3 L211.0,326.7 L211.7,325.9 L212.3,325.4 L213.0,324.6 L213.7,324.2 L214.4,323.5 L215.0,322.9 L215.9,322.3 L216.9,321.3 L217.8,320.5 L218.7,319.9 L219.5,319.1 L220.4,318.5 L221.2,317.6 L222.0,316.9 L222.8,316.4 L223.5,315.6 L224.3,315.2 L225.0,314.4 L225.6,314.0 L226.3,313.3 L226.9,312.9 L227.5,312.3 L228.0,311.9 L229.5,311.1 L230.6,310.4 L231.4,310.2 L232.1,309.7 L233.0,309.2 L233.7,308.4 L234.4,307.8 L235.1,307.2 L235.8,306.2 L236.5,305.3 L237.3,304.6 L238.1,303.7 L238.8,302.9 L239.6,302.0 L240.4,301.4 L241.2,300.5 L242.1,299.9 L242.9,298.9 L243.7,298.3 L244.4,297.7 L245.1,297.1 L246.3,296.3 L247.3,295.9 L248.2,295.7 L249.1,295.1 L249.9,294.5 L250.8,294.2 L251.6,293.3 L252.4,292.9 L253.1,292.2 L253.7,291.1 L254.2,290.0 L254.6,289.0 L255.1,288.2 L256.0,287.4 L257.1,286.7 L257.8,285.7 L258.6,284.8 L259.4,283.8 L260.2,283.2 L261.2,282.4 L262.2,281.5 L263.2,281.0 L264.2,280.3 L265.2,279.5 L266.1,279.3 L267.4,279.8 L268.6,279.9 L269.2,279.0 L269.8,278.0 L270.4,276.6 L271.0,275.6 L271.7,274.9 L272.5,274.6 L273.5,273.8 L274.2,273.3 L275.0,272.4 L275.9,271.5 L276.8,270.8 L277.6,270.0 L278.4,269.6 L279.7,269.5 L280.9,270.1 L282.1,270.1 L282.7,269.5 L283.3,268.5 L284.0,267.2 L284.6,265.9 L285.2,265.1 L285.8,264.7 L286.7,264.9 L287.7,266.2 L288.6,267.1 L289.5,267.2 L289.9,266.6 L290.3,265.9 L290.7,264.8 L291.2,263.8 L291.6,262.5 L292.0,261.0 L292.4,259.9 L292.7,259.2 L293.1,258.3 L294.3,258.5 L295.6,259.0 L296.1,258.4 L296.7,257.8 L297.3,257.0 L298.0,256.1 L298.7,255.3 L299.3,254.1 L300.0,253.1 L300.5,252.4 L301.0,251.3 L301.4,250.3 L301.8,249.0 L302.2,247.8 L302.5,246.6 L302.9,245.7 L303.2,245.2 L303.6,244.9 L304.0,245.2 L304.5,246.1 L304.9,247.4 L305.3,248.7 L305.8,250.0 L306.2,251.2 L306.7,251.7 L307.6,251.5 L308.7,250.6 L309.6,249.3 L310.3,248.6" fill="none" stroke="#28dc28" stroke-width="1.6" stroke-linejoin="round" stroke-linecap="round"/>
<path d="M35.9,420.3 L36.5,420.3 L37.2,420.1 L38.0,420.2 L38.9,420.1 L39.9,419.9 L41.0,420.0 L42.1,419.7 L43.3,419.6 L44.5,419.5 L45.6,419.6 L46.8,419.5 L47.9,419.4 L49.0,419.3 L50.0,419.3 L51.0,419.0 L52.1,419.0 L53.1,419.0 L54.1,419.0 L55.1,418.9 L56.1,418.8 L57.1,418.8 L58.1,418.6 L59.1,418.7 L60.1,418.5 L61.1,418.3 L62.0,418.3 L63.0,418.3 L64.0,418.1 L65.0,417.9 L66.0,418.0 L66.9,417.9 L67.9,417.8 L68.8,417.7 L69.8,417.7 L70.7,417.4 L71.7,417.3 L72.8,417.1 L73.9,417.1 L75.0,417.0 L75.9,417.0 L76.8,416.8 L77.8,416.7 L78.8,416.5 L79.8,416.4 L80.8,416.2 L81.8,416.2 L82.8,416.0 L83.9,415.9 L84.9,415.6 L86.0,415.6 L87.0,415.4 L88.0,415.2 L89.0,415.2 L90.0,415.1 L90.9,414.9 L92.0,414.7 L93.1,414.5 L94.1,414.4 L95.1,414.0 L96.1,414.0 L97.0,413.9 L98.0,413.7 L99.0,413.4 L100.0,413.2 L101.1,413.2 L102.2,413.1 L103.4,412.8 L104.7,412.6 L105.6,412.5 L106.5,412.4 L107.4,412.4 L108.4,412.4 L109.4,412.3 L110.5,412.1 L111.5,412.1 L112.6,411.8 L113.7,411.9 L114.8,411.6 L115.9,411.5 L116.9,411.5 L118.0,411.3 L119.1,411.2 L120.1,411.1 L121.2,411.1 L122.2,411.0 L123.2,411.0 L124.1,410.7 L125.0,410.8 L126.1,410.5 L127.1,410.4 L128.1,410.4 L129.0,410.2 L129.8,410.1 L130.7,410.1 L131.5,409.9 L132.3,409.9 L133.2,409.6 L134.1,409.7 L135.1,409.5 L136.1,409.3 L137.3,408.9 L138.6,408.9 L140.0,408.5 L140.8,408.5 L141.6,408.3 L142.4,408.0 L143.3,408.0 L144.2,407.9 L145.2,407.7 L146.2,407.4 L147.2,407.3 L148.2,407.1 L149.2,406.8 L150.3,406.8 L151.4,406.6 L152.4,406.3 L153.5,406.1 L154.6,405.7 L155.7,405.7 L156.8,405.2 L157.9,405.1 L159.0,404.8 L160.1,404.6 L161.2,404.5 L162.3,404.3 L163.3,404.0 L164.3,403.7 L165.4,403.4 L166.3,403.3 L167.3,403.0 L168.2,402.8 L169.1,402.8 L170.0,402.5 L171.2,402.2 L172.4,401.8 L173.5,401.7 L174.7,401.3 L175.8,401.0 L176.9,400.8 L178.0,400.5 L179.1,400.3 L180.1,400.0 L181.1,399.7 L182.1,399.4 L183.1,399.1 L184.0,398.8 L185.0,398.3 L185.9,398.1 L186.8,397.8 L187.6,397.8 L188.5,397.5 L189.3,397.3 L190.0,396.9 L190.8,396.8 L192.2,396.3 L193.4,396.2 L194.5,396.0 L195.4,395.6 L196.3,395.4 L197.1,395.2 L197.9,395.0 L198.9,394.9 L200.0,394.5 L201.2,393.9 L202.0,393.5 L202.8,393.1 L203.7,392.8 L204.5,392.6 L205.4,392.1 L206.3,391.8 L207.2,391.3 L208.2,390.9 L209.1,390.3 L210.1,389.9 L211.1,389.2 L212.1,388.7 L213.1,388.4 L214.2,387.9 L215.2,387.3 L216.3,386.9 L217.3,386.3 L218.4,386.1 L219.3,385.7 L220.2,385.4 L221.1,385.0 L222.0,384.5 L223.0,384.2 L224.0,383.7 L225.0,383.4 L226.0,383.0 L227.1,382.4 L228.1,382.0 L229.1,381.7 L230.2,381.4 L231.2,380.9 L232.2,380.4 L233.2,380.3 L234.1,379.9 L235.1,379.5 L236.0,379.0 L236.9,378.9 L237.7,378.4 L238.5,378.0 L239.3,377.7 L240.0,377.5 L241.4,377.0 L242.6,376.4 L243.7,375.9 L244.7,375.3 L245.6,374.9 L246.4,374.6 L247.2,374.1 L247.9,373.6 L248.6,373.4 L249.3,373.0 L250.0,372.7 L251.3,372.3 L252.2,372.2 L253.0,372.0 L253.9,371.8 L255.0,371.2 L255.7,370.6 L256.5,370.3 L257.3,369.5 L258.1,368.9 L259.0,368.2 L259.9,367.6 L260.7,366.9 L261.5,366.1 L262.3,365.7 L263.0,365.3 L264.2,364.5 L265.2,364.0 L266.1,363.8 L267.0,363.4 L268.0,362.9 L268.9,362.5 L269.8,362.3 L270.7,361.7 L271.6,361.3 L272.6,361.0 L273.7,360.6 L274.6,360.3 L275.6,360.1 L276.7,359.6 L277.8,359.4 L278.9,359.4 L279.9,359.1 L280.9,358.6 L281.8,358.4 L283.0,357.9 L284.2,357.4 L285.2,356.6 L286.1,356.2 L287.1,355.9 L288.3,355.9 L289.6,356.4 L290.7,356.5 L291.8,356.4 L292.5,355.8 L293.2,355.3 L293.8,354.1 L294.4,353.4 L295.2,352.6 L296.1,351.8 L297.2,351.4 L298.3,350.6 L299.4,350.2 L300.5,349.7 L301.6,349.5 L302.7,349.3 L303.8,349.1 L304.9,348.6 L305.9,348.6 L307.1,348.1 L308.2,347.8 L309.2,347.4 L309.9,347.1" fill="none" stroke="#e61c1c" stroke-width="1.6" stroke-linejoin="round" stroke-linecap="round"/>
<path d="M35.9,418.9 L36.5,418.9 L37.2,418.8 L38.0,418.8 L38.9,418.5 L39.9,418.5 L41.0,418.5 L42.1,418.4 L43.3,418.3 L44.5,418.1 L45.6,418.2 L46.8,417.9 L47.9,418.1 L49.0,418.0 L50.0,417.8 L51.0,417.6 L52.1,417.7 L53.1,417.4 L54.1,417.4 L55.1,417.2 L56.1,417.4 L57.1,417.2 L58.1,417.0 L59.1,416.9 L60.1,416.9 L61.1,416.9 L62.0,416.8 L63.0,416.5 L64.0,416.5 L65.0,416.3 L66.0,416.4 L66.9,416.1 L67.9,416.2 L68.8,416.2 L69.8,416.0 L70.7,415.7 L71.7,415.6 L72.8,415.5 L73.9,415.6 L75.0,415.4 L75.9,415.3 L76.8,415.2 L77.8,415.1 L78.8,415.0 L79.8,414.9 L80.8,414.9 L81.8,414.7 L82.8,414.6 L83.9,414.5 L84.9,414.4 L86.0,414.2 L87.0,413.9 L88.0,414.0 L89.0,413.9 L90.0,413.7 L90.9,413.7 L92.0,413.4 L93.1,413.5 L94.1,413.2 L95.1,413.2 L96.1,413.0 L97.0,412.9 L98.0,412.8 L99.0,412.7 L100.0,412.5 L101.1,412.4 L102.2,412.4 L103.4,412.1 L104.7,412.0 L105.6,411.8 L106.5,411.7 L107.4,411.6 L108.4,411.3 L109.4,411.0 L110.5,410.8 L111.5,410.6 L112.6,410.3 L113.7,410.2 L114.8,410.1 L115.9,409.9 L116.9,409.5 L118.0,409.5 L119.1,409.3 L120.1,409.1 L121.2,408.8 L122.2,408.6 L123.2,408.2 L124.1,408.3 L125.0,407.9 L126.1,407.8 L127.1,407.6 L128.1,407.5 L129.0,407.4 L129.8,407.1 L130.7,407.1 L131.5,407.0 L132.3,406.8 L133.2,406.8 L134.1,406.4 L135.1,406.4 L136.1,406.1 L137.3,405.9 L138.6,405.3 L140.0,404.9 L140.7,404.7 L141.5,404.7 L142.4,404.2 L143.2,404.0 L144.1,403.9 L145.0,403.7 L145.9,403.1 L146.9,402.9 L147.9,402.7 L148.9,402.4 L149.9,402.1 L150.9,401.8 L152.0,401.3 L153.0,400.9 L154.1,400.5 L155.2,400.4 L156.2,399.9 L157.3,399.6 L158.4,399.4 L159.4,399.0 L160.5,398.6 L161.5,398.3 L162.5,398.0 L163.6,397.7 L164.5,397.2 L165.5,396.8 L166.5,396.5 L167.4,396.2 L168.3,396.0 L169.2,395.7 L170.0,395.4 L171.2,395.1 L172.4,394.9 L173.5,394.4 L174.7,393.9 L175.8,393.7 L176.9,393.1 L178.0,392.7 L179.1,392.4 L180.1,392.1 L181.1,391.8 L182.1,391.4 L183.1,391.2 L184.0,390.7 L185.0,390.6 L185.9,390.1 L186.8,389.9 L187.6,389.4 L188.5,389.4 L189.3,388.9 L190.0,388.9 L190.8,388.6 L192.2,388.1 L193.4,387.7 L194.4,387.3 L195.2,387.2 L196.1,387.2 L196.9,386.8 L197.7,386.7 L198.7,386.3 L199.9,385.9 L201.2,385.2 L202.0,384.9 L202.7,384.5 L203.5,384.4 L204.4,383.8 L205.2,383.5 L206.1,383.1 L207.1,382.5 L208.0,382.0 L209.0,381.5 L209.9,381.3 L210.9,380.6 L211.9,380.3 L212.9,379.6 L213.9,379.2 L214.9,378.6 L215.9,378.2 L216.9,377.6 L217.9,377.1 L218.8,376.6 L219.8,376.0 L220.7,375.6 L221.6,375.3 L222.5,374.6 L223.5,374.2 L224.4,373.8 L225.3,373.1 L226.3,372.6 L227.2,372.0 L228.2,371.6 L229.1,371.0 L230.1,370.6 L231.0,370.0 L231.9,369.6 L232.8,368.9 L233.7,368.5 L234.6,368.1 L235.4,367.4 L236.2,366.9 L237.0,366.6 L237.8,366.1 L238.6,365.7 L239.3,365.4 L240.0,364.9 L241.2,364.2 L242.4,363.8 L243.5,363.2 L244.5,362.7 L245.4,362.3 L246.3,361.9 L247.1,361.5 L247.9,361.2 L248.6,360.9 L249.3,360.8 L250.0,360.3 L251.3,359.6 L252.2,359.2 L253.0,359.0 L253.9,358.6 L255.0,358.0 L255.8,357.6 L256.6,357.0 L257.6,356.1 L258.5,355.7 L259.5,354.9 L260.4,354.1 L261.4,353.5 L262.2,353.1 L263.0,352.4 L264.2,351.7 L265.2,351.3 L266.1,351.1 L267.0,350.5 L268.0,350.1 L268.9,349.4 L269.7,348.9 L270.6,348.3 L271.5,347.7 L272.5,347.2 L273.7,346.5 L274.5,346.0 L275.4,345.9 L276.3,345.3 L277.3,344.8 L278.3,344.3 L279.4,344.1 L280.4,343.7 L281.3,343.1 L282.3,342.9 L283.1,342.6 L284.2,342.0 L285.3,341.4 L286.4,341.0 L287.4,340.5 L288.3,340.0 L289.1,339.4 L289.8,339.2 L290.9,338.2 L291.7,337.1 L292.5,336.5 L293.4,336.5 L294.4,337.1 L295.5,337.2 L296.5,337.0 L297.1,336.6 L297.7,335.9 L298.3,334.7 L298.9,333.8 L299.5,332.7 L300.0,331.9 L300.5,331.0 L301.3,329.4 L301.8,328.3 L302.5,327.7 L303.1,328.3 L303.7,329.3 L304.4,330.6 L305.1,331.4 L305.9,331.8 L306.5,331.2 L307.1,330.5 L307.8,329.5 L308.5,328.4 L309.1,327.1 L309.7,326.1 L310.2,325.1 L310.6,324.4" fill="none" stroke="#1c2ca6" stroke-width="1.6" stroke-linejoin="round" stroke-linecap="round"/>
<text x="94.10" y="349.00" font-size="11.2" font-weight="normal" fill="#4e2a84" textLength="48.10" lengthAdjust="spacingAndGlyphs">~2.12 eV</text>
<text x="170.80" y="375.90" font-size="11.2" font-weight="normal" fill="#2a5fae" textLength="50.30" lengthAdjust="spacingAndGlyphs">~ 2.17 eV</text>
<text x="234.90" y="315.50" font-size="11.2" font-weight="normal" fill="#2b8f45" textLength="50.30" lengthAdjust="spacingAndGlyphs">~ 2.10 eV</text>
<text x="256.30" y="378.30" font-size="11.2" font-weight="normal" fill="#dd2a2a" textLength="50.70" lengthAdjust="spacingAndGlyphs">~ 2.13 eV</text>
<line x1="377.30" y1="246.40" x2="377.30" y2="422.30" stroke="#505050" stroke-width="1.2"/>
<line x1="377.30" y1="422.30" x2="660.30" y2="422.30" stroke="#505050" stroke-width="1.2"/>
<line x1="374.80" y1="422.30" x2="377.30" y2="422.30" stroke="#505050" stroke-width="1.0"/>
<text x="361.45" y="424.60" font-size="6.8" font-weight="normal" fill="#1a1a1a" textLength="10.35" lengthAdjust="spacingAndGlyphs" stroke="#1a1a1a" stroke-width="0.2">150</text>
<line x1="374.80" y1="397.48" x2="377.30" y2="397.48" stroke="#505050" stroke-width="1.0"/>
<text x="361.45" y="399.78" font-size="6.8" font-weight="normal" fill="#1a1a1a" textLength="10.35" lengthAdjust="spacingAndGlyphs" stroke="#1a1a1a" stroke-width="0.2">650</text>
<line x1="374.80" y1="372.66" x2="377.30" y2="372.66" stroke="#505050" stroke-width="1.0"/>
<text x="358.00" y="374.96" font-size="6.8" font-weight="normal" fill="#1a1a1a" textLength="13.80" lengthAdjust="spacingAndGlyphs" stroke="#1a1a1a" stroke-width="0.2">1150</text>
<line x1="374.80" y1="347.84" x2="377.30" y2="347.84" stroke="#505050" stroke-width="1.0"/>
<text x="358.00" y="350.14" font-size="6.8" font-weight="normal" fill="#1a1a1a" textLength="13.80" lengthAdjust="spacingAndGlyphs" stroke="#1a1a1a" stroke-width="0.2">1650</text>
<line x1="374.80" y1="323.02" x2="377.30" y2="323.02" stroke="#505050" stroke-width="1.0"/>
<text x="358.00" y="325.32" font-size="6.8" font-weight="normal" fill="#1a1a1a" textLength="13.80" lengthAdjust="spacingAndGlyphs" stroke="#1a1a1a" stroke-width="0.2">2150</text>
<line x1="374.80" y1="298.20" x2="377.30" y2="298.20" stroke="#505050" stroke-width="1.0"/>
<text x="358.00" y="300.50" font-size="6.8" font-weight="normal" fill="#1a1a1a" textLength="13.80" lengthAdjust="spacingAndGlyphs" stroke="#1a1a1a" stroke-width="0.2">2650</text>
<line x1="374.80" y1="273.38" x2="377.30" y2="273.38" stroke="#505050" stroke-width="1.0"/>
<text x="358.00" y="275.68" font-size="6.8" font-weight="normal" fill="#1a1a1a" textLength="13.80" lengthAdjust="spacingAndGlyphs" stroke="#1a1a1a" stroke-width="0.2">3150</text>
<line x1="374.80" y1="248.56" x2="377.30" y2="248.56" stroke="#505050" stroke-width="1.0"/>
<text x="358.00" y="250.86" font-size="6.8" font-weight="normal" fill="#1a1a1a" textLength="13.80" lengthAdjust="spacingAndGlyphs" stroke="#1a1a1a" stroke-width="0.2">3650</text>
<line x1="377.30" y1="422.30" x2="377.30" y2="424.50" stroke="#505050" stroke-width="1.0"/>
<text x="372.10" y="431.20" font-size="6.6" font-weight="normal" fill="#1a1a1a" textLength="10.40" lengthAdjust="spacingAndGlyphs" stroke="#1a1a1a" stroke-width="0.25">300</text>
<line x1="428.85" y1="422.30" x2="428.85" y2="424.50" stroke="#505050" stroke-width="1.0"/>
<text x="423.65" y="431.20" font-size="6.6" font-weight="normal" fill="#1a1a1a" textLength="10.40" lengthAdjust="spacingAndGlyphs" stroke="#1a1a1a" stroke-width="0.25">400</text>
<line x1="480.40" y1="422.30" x2="480.40" y2="424.50" stroke="#505050" stroke-width="1.0"/>
<text x="475.20" y="431.20" font-size="6.6" font-weight="normal" fill="#1a1a1a" textLength="10.40" lengthAdjust="spacingAndGlyphs" stroke="#1a1a1a" stroke-width="0.25">500</text>
<line x1="531.95" y1="422.30" x2="531.95" y2="424.50" stroke="#505050" stroke-width="1.0"/>
<text x="526.75" y="431.20" font-size="6.6" font-weight="normal" fill="#1a1a1a" textLength="10.40" lengthAdjust="spacingAndGlyphs" stroke="#1a1a1a" stroke-width="0.25">600</text>
<line x1="583.50" y1="422.30" x2="583.50" y2="424.50" stroke="#505050" stroke-width="1.0"/>
<text x="578.30" y="431.20" font-size="6.6" font-weight="normal" fill="#1a1a1a" textLength="10.40" lengthAdjust="spacingAndGlyphs" stroke="#1a1a1a" stroke-width="0.25">700</text>
<line x1="635.05" y1="422.30" x2="635.05" y2="424.50" stroke="#505050" stroke-width="1.0"/>
<text x="629.85" y="431.20" font-size="6.6" font-weight="normal" fill="#1a1a1a" textLength="10.40" lengthAdjust="spacingAndGlyphs" stroke="#1a1a1a" stroke-width="0.25">800</text>
<text x="335.10" y="237.00" font-size="12.4" font-weight="bold" fill="#111" textLength="18.50" lengthAdjust="spacingAndGlyphs" stroke="#111" stroke-width="0.7">(d)</text>
<text x="477.30" y="444.20" font-size="8.0" font-weight="bold" fill="#1a1a1a" textLength="58.10" lengthAdjust="spacingAndGlyphs" stroke="#1a1a1a" stroke-width="0.3">Wavelength (nm)</text>
<text x="0" y="0" font-size="8.6" font-weight="bold" fill="#1a1a1a" textLength="63.60" lengthAdjust="spacingAndGlyphs" transform="translate(351.60,366.20) rotate(-90)" stroke="#1a1a1a" stroke-width="0.3">Emission Intensity (a.u.)</text>
<line x1="598.00" y1="259.50" x2="608.90" y2="259.50" stroke="#ee22cc" stroke-width="1.4"/>
<text x="609.20" y="262.20" font-size="8.0" font-weight="normal" fill="#1a1a1a" textLength="17.70" lengthAdjust="spacingAndGlyphs" stroke="#1a1a1a" stroke-width="0.15">BFO</text>
<line x1="598.00" y1="274.40" x2="608.90" y2="274.40" stroke="#1e9040" stroke-width="1.4"/>
<text x="609.20" y="277.10" font-size="8.0" font-weight="normal" fill="#1a1a1a" textLength="26.20" lengthAdjust="spacingAndGlyphs" stroke="#1a1a1a" stroke-width="0.15">G-BFO</text>
<line x1="598.00" y1="289.80" x2="608.90" y2="289.80" stroke="#e02a2a" stroke-width="1.4"/>
<text x="609.20" y="292.50" font-size="8.0" font-weight="normal" fill="#1a1a1a" textLength="26.30" lengthAdjust="spacingAndGlyphs" stroke="#1a1a1a" stroke-width="0.15">N-BFO</text>
<line x1="598.00" y1="304.80" x2="608.90" y2="304.80" stroke="#2850b0" stroke-width="1.4"/>
<text x="609.20" y="307.50" font-size="8.0" font-weight="normal" fill="#1a1a1a" textLength="25.50" lengthAdjust="spacingAndGlyphs" stroke="#1a1a1a" stroke-width="0.15">P-BFO</text>
<path d="M377.30,421.00 L377.50,420.19 L377.65,419.60 L377.84,418.86 L378.05,418.01 L378.28,417.07 L378.53,416.07 L378.79,415.01 L379.08,413.90 L379.37,412.77 L379.68,411.62 L380.00,410.46 L380.32,409.32 L380.65,408.21 L380.96,407.17 L381.27,406.21 L381.57,405.29 L381.88,404.41 L382.19,403.53 L382.51,402.65 L382.84,401.77 L383.17,400.87 L383.51,399.96 L383.86,399.04 L384.21,398.11 L384.56,397.16 L384.91,396.20 L385.27,395.22 L385.62,394.21 L385.97,393.19 L386.31,392.16 L386.64,391.13 L386.95,390.13 L387.23,389.17 L387.50,388.23 L387.76,387.30 L388.02,386.36 L388.28,385.41 L388.53,384.44 L388.79,383.45 L389.04,382.45 L389.30,381.44 L389.55,380.42 L389.81,379.39 L390.06,378.37 L390.32,377.34 L390.57,376.31 L390.83,375.28 L391.09,374.26 L391.34,373.25 L391.60,372.25 L391.85,371.26 L392.11,370.29 L392.36,369.32 L392.62,368.37 L392.89,367.39 L393.17,366.39 L393.47,365.36 L393.77,364.30 L394.07,363.23 L394.37,362.16 L394.68,361.10 L394.98,360.04 L395.29,358.99 L395.59,357.96 L395.89,356.94 L396.20,355.94 L396.50,354.96 L396.81,354.00 L397.12,353.06 L397.43,352.15 L397.74,351.26 L398.06,350.40 L398.38,349.55 L398.73,348.68 L399.12,347.75 L399.55,346.75 L400.00,345.72 L400.47,344.69 L400.94,343.72 L401.42,342.80 L401.92,341.96 L402.45,341.17 L403.03,340.45 L403.67,339.79 L404.36,339.19 L405.12,338.67 L405.91,338.22 L406.75,337.86 L407.64,337.57 L408.57,337.34 L409.55,337.16 L410.57,337.03 L411.61,336.93 L412.68,336.85 L413.76,336.79 L414.84,336.74 L415.91,336.68 L416.96,336.61 L418.00,336.53 L419.02,336.43 L420.04,336.31 L421.05,336.18 L422.07,336.04 L423.07,335.89 L424.07,335.75 L425.05,335.61 L426.04,335.47 L427.02,335.32 L428.00,335.17 L428.99,335.01 L429.98,334.85 L430.98,334.68 L431.99,334.50 L433.01,334.33 L434.04,334.15 L435.09,333.97 L436.16,333.79 L437.24,333.60 L438.31,333.41 L439.37,333.22 L440.41,333.01 L441.41,332.79 L442.37,332.57 L443.29,332.32 L444.17,332.03 L445.05,331.68 L445.92,331.23 L446.77,330.67 L447.54,330.03 L448.21,329.32 L448.82,328.57 L449.42,327.81 L450.04,327.03 L450.68,326.26 L451.35,325.48 L452.03,324.69 L452.70,323.89 L453.37,323.07 L454.03,322.24 L454.65,321.39 L455.25,320.53 L455.82,319.63 L456.36,318.72 L456.89,317.81 L457.42,316.91 L457.96,316.05 L458.55,315.23 L459.22,314.43 L460.00,313.68 L460.85,313.00 L461.74,312.49 L462.63,312.20 L463.50,312.19 L464.32,312.46 L465.11,312.97 L465.87,313.69 L466.58,314.54 L467.25,315.45 L467.83,316.38 L468.33,317.28 L468.76,318.17 L469.13,319.07 L469.49,320.00 L469.84,320.96 L470.20,321.94 L470.58,322.91 L470.97,323.84 L471.35,324.71 L471.72,325.51 L472.09,326.28 L472.47,327.06 L472.87,327.87 L473.31,328.75 L473.80,329.73 L474.33,330.80 L474.87,331.91 L475.39,332.98 L475.84,333.94 L476.25,334.82 L476.62,335.65 L477.00,336.49 L477.38,337.37 L477.78,338.28 L478.19,339.22 L478.61,340.19 L479.04,341.19 L479.48,342.20 L479.93,343.22 L480.39,344.25 L480.85,345.28 L481.31,346.31 L481.78,347.33 L482.25,348.34 L482.72,349.32 L483.20,350.29 L483.67,351.22 L484.14,352.12 L484.60,352.99 L485.07,353.82 L485.56,354.63 L486.09,355.45 L486.68,356.31 L487.34,357.19 L488.05,358.08 L488.78,358.92 L489.53,359.71 L490.28,360.45 L491.03,361.14 L491.78,361.78 L492.53,362.39 L493.28,362.96 L494.02,363.50 L494.76,364.03 L495.50,364.55 L496.26,365.07 L497.04,365.62 L497.89,366.21 L498.78,366.82 L499.72,367.45 L500.67,368.06 L501.61,368.64 L502.55,369.16 L503.47,369.63 L504.38,370.02 L505.27,370.32 L506.15,370.52 L507.02,370.60 L507.90,370.54 L508.78,370.31 L509.65,369.93 L510.50,369.42 L511.33,368.80 L512.15,368.13 L512.96,367.44 L513.78,366.77 L514.62,366.12 L515.49,365.49 L516.37,364.87 L517.27,364.25 L518.18,363.63 L519.09,363.06 L520.00,362.56 L520.90,362.17 L521.80,361.92 L522.68,361.85 L523.55,361.95 L524.41,362.22 L525.26,362.64 L526.11,363.16 L526.96,363.76 L527.81,364.39 L528.67,365.03 L529.52,365.64 L530.37,366.21 L531.19,366.75 L532.00,367.28 L532.82,367.80 L533.64,368.33 L534.49,368.87 L535.36,369.40 L536.26,369.92 L537.19,370.44 L538.10,370.92 L539.01,371.37 L539.90,371.80 L540.80,372.21 L541.72,372.62 L542.66,373.03 L543.62,373.43 L544.59,373.84 L545.57,374.24 L546.56,374.64 L547.54,375.03 L548.53,375.42 L549.50,375.80 L550.47,376.18 L551.44,376.55 L552.41,376.92 L553.40,377.29 L554.39,377.66 L555.38,378.03 L556.37,378.39 L557.35,378.74 L558.31,379.07 L559.25,379.40 L560.17,379.71 L561.08,380.00 L562.03,380.30 L563.04,380.59 L564.10,380.88 L565.17,381.16 L566.21,381.40 L567.21,381.61 L568.16,381.80 L569.10,381.96 L570.05,382.10 L571.05,382.21 L572.08,382.31 L573.09,382.42 L574.05,382.59 L574.93,382.86 L575.75,383.21 L576.55,383.66 L577.39,384.20 L578.29,384.81 L579.22,385.46 L580.13,386.09 L580.97,386.68 L581.79,387.25 L582.60,387.82 L583.45,388.43 L584.34,389.05 L585.25,389.70 L586.17,390.36 L587.11,391.01 L588.03,391.66 L588.94,392.28 L589.82,392.88 L590.67,393.45 L591.51,393.99 L592.35,394.49 L593.20,394.97 L594.06,395.40 L594.88,395.76 L595.67,396.07 L596.47,396.36 L597.32,396.71 L598.24,397.12 L599.18,397.60 L600.09,398.11 L600.92,398.60 L601.69,399.09 L602.45,399.60 L603.23,400.13 L604.04,400.68 L604.87,401.26 L605.73,401.87 L606.61,402.48 L607.50,403.11 L608.41,403.75 L609.33,404.39 L610.26,405.02 L611.18,405.65 L612.10,406.27 L613.02,406.87 L613.93,407.45 L614.83,408.01 L615.72,408.54 L616.62,409.06 L617.54,409.58 L618.49,410.09 L619.47,410.61 L620.47,411.12 L621.48,411.63 L622.50,412.14 L623.51,412.62 L624.53,413.10 L625.52,413.55 L626.51,413.98 L627.47,414.38 L628.41,414.75 L629.32,415.08 L630.19,415.38 L631.03,415.64 L631.86,415.85 L632.72,415.99 L633.64,416.03 L634.62,415.93 L635.61,415.65 L636.53,415.20 L637.37,414.63 L638.15,414.00 L638.92,413.39 L639.75,412.83 L640.66,412.33 L641.65,411.91 L642.68,411.55 L643.72,411.29 L644.74,411.15 L645.74,411.16 L646.70,411.33 L647.62,411.66 L648.51,412.14 L649.39,412.73 L650.25,413.42 L651.08,414.18 L651.89,414.97 L652.66,415.78 L653.40,416.64 L654.14,417.54 L654.86,418.46 L655.55,419.37 L656.20,420.24 L656.76,421.00 L657.21,421.60 L657.80,422.40 L657.80,422.40" fill="none" stroke="#ee22cc" stroke-width="1.6" stroke-linejoin="round" stroke-linecap="round"/>
<path d="M377.30,421.00 L377.50,420.19 L377.65,419.60 L377.84,418.86 L378.05,418.01 L378.28,417.07 L378.53,416.07 L378.79,415.01 L379.08,413.90 L379.37,412.77 L379.68,411.62 L380.00,410.46 L380.32,409.32 L380.65,408.21 L380.96,407.17 L381.27,406.21 L381.57,405.29 L381.88,404.41 L382.19,403.53 L382.51,402.65 L382.84,401.77 L383.17,400.87 L383.51,399.96 L383.86,399.04 L384.21,398.11 L384.56,397.16 L384.91,396.20 L385.27,395.22 L385.62,394.21 L385.97,393.19 L386.31,392.16 L386.64,391.13 L386.95,390.13 L387.23,389.17 L387.50,388.25 L387.76,387.33 L388.02,386.40 L388.28,385.46 L388.53,384.51 L388.79,383.54 L389.04,382.56 L389.30,381.57 L389.55,380.57 L389.81,379.57 L390.06,378.55 L390.32,377.54 L390.57,376.52 L390.83,375.50 L391.09,374.48 L391.34,373.46 L391.60,372.45 L391.85,371.44 L392.11,370.44 L392.36,369.45 L392.62,368.46 L392.88,367.47 L393.14,366.48 L393.40,365.47 L393.66,364.46 L393.93,363.43 L394.19,362.40 L394.46,361.37 L394.72,360.33 L394.98,359.29 L395.24,358.26 L395.51,357.23 L395.77,356.20 L396.04,355.18 L396.30,354.17 L396.56,353.18 L396.83,352.20 L397.10,351.23 L397.37,350.28 L397.63,349.35 L397.91,348.43 L398.18,347.54 L398.46,346.65 L398.76,345.74 L399.09,344.78 L399.46,343.75 L399.85,342.66 L400.27,341.55 L400.69,340.45 L401.11,339.38 L401.54,338.35 L401.97,337.35 L402.41,336.40 L402.84,335.50 L403.28,334.65 L403.72,333.85 L404.17,333.11 L404.64,332.42 L405.17,331.77 L405.78,331.18 L406.49,330.69 L407.29,330.35 L408.16,330.17 L409.10,330.10 L410.10,330.05 L411.14,329.94 L412.16,329.75 L413.11,329.47 L413.99,329.13 L414.83,328.76 L415.67,328.35 L416.54,327.91 L417.45,327.46 L418.38,326.98 L419.33,326.51 L420.32,326.03 L421.32,325.56 L422.35,325.10 L423.39,324.66 L424.44,324.26 L425.49,323.90 L426.51,323.58 L427.53,323.31 L428.54,323.07 L429.57,322.86 L430.63,322.68 L431.73,322.51 L432.84,322.35 L433.97,322.20 L435.11,322.06 L436.24,321.92 L437.36,321.79 L438.46,321.66 L439.53,321.53 L440.57,321.39 L441.55,321.25 L442.49,321.10 L443.38,320.93 L444.26,320.72 L445.17,320.43 L446.11,320.06 L447.02,319.58 L447.82,319.01 L448.46,318.37 L448.99,317.66 L449.48,316.89 L449.98,316.08 L450.48,315.27 L450.99,314.43 L451.50,313.57 L452.00,312.68 L452.51,311.75 L453.02,310.80 L453.52,309.85 L454.02,308.89 L454.51,307.94 L454.99,306.99 L455.46,306.04 L455.92,305.08 L456.38,304.10 L456.83,303.12 L457.28,302.15 L457.72,301.22 L458.17,300.32 L458.64,299.47 L459.17,298.66 L459.79,297.85 L460.51,297.08 L461.33,296.40 L462.20,295.88 L463.09,295.58 L463.97,295.52 L464.84,295.69 L465.70,296.07 L466.53,296.63 L467.31,297.31 L468.01,298.05 L468.61,298.81 L469.12,299.57 L469.55,300.37 L469.94,301.23 L470.31,302.18 L470.66,303.19 L470.99,304.22 L471.28,305.20 L471.54,306.15 L471.78,307.09 L472.02,308.05 L472.26,309.06 L472.50,310.10 L472.75,311.16 L473.01,312.24 L473.27,313.32 L473.55,314.40 L473.84,315.45 L474.14,316.48 L474.46,317.49 L474.80,318.47 L475.15,319.43 L475.53,320.38 L475.91,321.32 L476.31,322.24 L476.72,323.16 L477.14,324.07 L477.57,324.98 L478.00,325.88 L478.44,326.79 L478.88,327.70 L479.33,328.62 L479.76,329.53 L480.19,330.45 L480.61,331.36 L481.02,332.28 L481.43,333.20 L481.83,334.12 L482.24,335.04 L482.66,335.97 L483.09,336.89 L483.54,337.81 L484.02,338.72 L484.52,339.62 L485.05,340.51 L485.62,341.39 L486.20,342.23 L486.80,343.05 L487.43,343.84 L488.07,344.63 L488.75,345.42 L489.44,346.21 L490.16,346.99 L490.89,347.76 L491.64,348.53 L492.39,349.27 L493.16,350.00 L493.92,350.70 L494.68,351.37 L495.45,352.02 L496.22,352.64 L497.02,353.25 L497.87,353.85 L498.78,354.46 L499.73,355.05 L500.71,355.61 L501.69,356.14 L502.68,356.62 L503.65,357.06 L504.60,357.44 L505.53,357.77 L506.43,358.03 L507.32,358.22 L508.22,358.31 L509.15,358.28 L510.08,358.09 L511.00,357.74 L511.89,357.26 L512.75,356.68 L513.62,356.07 L514.51,355.47 L515.43,354.88 L516.36,354.31 L517.31,353.73 L518.27,353.15 L519.25,352.59 L520.23,352.07 L521.19,351.64 L522.14,351.33 L523.06,351.16 L523.97,351.17 L524.85,351.35 L525.71,351.69 L526.56,352.18 L527.39,352.78 L528.22,353.46 L529.05,354.18 L529.85,354.89 L530.61,355.59 L531.33,356.29 L532.03,357.00 L532.72,357.74 L533.43,358.50 L534.16,359.28 L534.92,360.06 L535.70,360.82 L536.50,361.56 L537.33,362.25 L538.16,362.89 L539.00,363.48 L539.84,364.02 L540.70,364.53 L541.58,365.02 L542.48,365.50 L543.39,365.96 L544.33,366.42 L545.27,366.87 L546.22,367.31 L547.17,367.74 L548.11,368.16 L549.06,368.58 L550.00,368.99 L550.94,369.39 L551.89,369.79 L552.85,370.18 L553.81,370.55 L554.77,370.93 L555.73,371.29 L556.70,371.65 L557.65,372.00 L558.60,372.34 L559.55,372.69 L560.48,373.03 L561.43,373.37 L562.39,373.73 L563.38,374.08 L564.40,374.44 L565.42,374.80 L566.45,375.15 L567.46,375.49 L568.45,375.84 L569.41,376.19 L570.35,376.55 L571.27,376.93 L572.16,377.35 L573.05,377.80 L573.92,378.31 L574.76,378.85 L575.57,379.43 L576.35,380.03 L577.11,380.66 L577.89,381.30 L578.69,381.95 L579.50,382.59 L580.31,383.20 L581.11,383.79 L581.91,384.37 L582.73,384.95 L583.55,385.54 L584.40,386.14 L585.26,386.74 L586.12,387.34 L586.99,387.94 L587.86,388.54 L588.72,389.13 L589.57,389.70 L590.40,390.26 L591.22,390.80 L592.02,391.32 L592.81,391.82 L593.60,392.32 L594.39,392.82 L595.21,393.34 L596.07,393.88 L596.97,394.45 L597.90,395.05 L598.85,395.66 L599.77,396.26 L600.62,396.82 L601.42,397.36 L602.21,397.90 L602.99,398.44 L603.80,399.00 L604.63,399.58 L605.48,400.18 L606.35,400.78 L607.23,401.40 L608.12,402.01 L609.01,402.63 L609.92,403.25 L610.82,403.86 L611.73,404.46 L612.63,405.04 L613.52,405.61 L614.41,406.16 L615.29,406.70 L616.17,407.21 L617.08,407.72 L618.01,408.24 L618.98,408.76 L619.97,409.28 L620.98,409.80 L621.99,410.31 L623.01,410.81 L624.02,411.30 L625.03,411.77 L626.02,412.22 L626.99,412.64 L627.95,413.03 L628.87,413.39 L629.76,413.71 L630.62,414.00 L631.45,414.24 L632.28,414.42 L633.17,414.52 L634.13,414.50 L635.12,414.31 L636.08,413.94 L636.96,413.42 L637.76,412.81 L638.53,412.18 L639.33,411.60 L640.20,411.09 L641.15,410.66 L642.16,410.31 L643.20,410.04 L644.23,409.89 L645.23,409.86 L646.18,409.98 L647.09,410.24 L647.94,410.63 L648.77,411.13 L649.57,411.74 L650.37,412.42 L651.14,413.17 L651.88,413.96 L652.58,414.78 L653.26,415.64 L653.92,416.54 L654.58,417.48 L655.22,418.44 L655.83,419.37 L656.40,420.24 L656.89,421.00 L657.28,421.61 L657.80,422.40 L657.80,422.40" fill="none" stroke="#1e9040" stroke-width="1.6" stroke-linejoin="round" stroke-linecap="round"/>
<path d="M377.30,420.80 L377.48,420.00 L377.61,419.41 L377.78,418.68 L377.97,417.84 L378.18,416.91 L378.40,415.92 L378.63,414.87 L378.88,413.78 L379.14,412.67 L379.40,411.53 L379.66,410.40 L379.93,409.27 L380.20,408.16 L380.47,407.08 L380.74,406.04 L381.01,405.02 L381.28,404.04 L381.55,403.09 L381.83,402.16 L382.11,401.25 L382.39,400.35 L382.68,399.45 L382.97,398.56 L383.27,397.65 L383.57,396.72 L383.87,395.75 L384.19,394.76 L384.50,393.72 L384.82,392.64 L385.13,391.57 L385.43,390.54 L385.69,389.57 L385.94,388.66 L386.17,387.77 L386.41,386.88 L386.64,385.97 L386.88,385.04 L387.12,384.09 L387.37,383.13 L387.61,382.15 L387.86,381.16 L388.11,380.15 L388.36,379.14 L388.62,378.12 L388.87,377.09 L389.13,376.06 L389.38,375.03 L389.64,374.00 L389.89,372.97 L390.15,371.94 L390.40,370.92 L390.65,369.90 L390.90,368.89 L391.15,367.89 L391.40,366.90 L391.65,365.90 L391.90,364.90 L392.15,363.88 L392.40,362.86 L392.65,361.83 L392.90,360.79 L393.16,359.75 L393.41,358.70 L393.66,357.65 L393.92,356.61 L394.17,355.57 L394.42,354.54 L394.67,353.51 L394.92,352.50 L395.17,351.50 L395.42,350.51 L395.66,349.54 L395.91,348.59 L396.15,347.67 L396.38,346.77 L396.62,345.88 L396.86,345.00 L397.11,344.09 L397.39,343.12 L397.69,342.05 L398.02,340.93 L398.36,339.80 L398.69,338.70 L399.02,337.65 L399.34,336.65 L399.66,335.69 L399.97,334.78 L400.30,333.91 L400.62,333.07 L400.96,332.26 L401.32,331.47 L401.72,330.65 L402.19,329.80 L402.74,328.90 L403.37,327.99 L404.05,327.12 L404.75,326.32 L405.46,325.60 L406.16,324.94 L406.87,324.33 L407.59,323.76 L408.37,323.24 L409.18,322.78 L410.03,322.37 L410.91,321.96 L411.78,321.54 L412.62,321.09 L413.42,320.62 L414.22,320.13 L415.04,319.61 L415.89,319.05 L416.77,318.45 L417.67,317.80 L418.56,317.13 L419.41,316.44 L420.21,315.76 L420.95,315.10 L421.64,314.44 L422.33,313.76 L423.01,313.06 L423.71,312.33 L424.41,311.59 L425.13,310.83 L425.85,310.07 L426.59,309.31 L427.33,308.56 L428.09,307.81 L428.85,307.08 L429.62,306.38 L430.41,305.69 L431.21,305.01 L432.03,304.34 L432.88,303.67 L433.74,303.01 L434.61,302.35 L435.49,301.69 L436.36,301.05 L437.23,300.41 L438.08,299.78 L438.90,299.18 L439.70,298.58 L440.49,297.99 L441.27,297.39 L442.08,296.76 L442.93,296.11 L443.79,295.46 L444.62,294.83 L445.41,294.21 L446.15,293.58 L446.86,292.92 L447.53,292.21 L448.17,291.46 L448.76,290.70 L449.30,289.93 L449.80,289.17 L450.27,288.40 L450.73,287.60 L451.18,286.76 L451.62,285.87 L452.06,284.93 L452.49,283.94 L452.92,282.90 L453.33,281.82 L453.71,280.76 L454.05,279.75 L454.35,278.80 L454.62,277.87 L454.87,276.93 L455.12,275.96 L455.36,274.96 L455.61,273.93 L455.85,272.87 L456.09,271.80 L456.33,270.71 L456.57,269.62 L456.81,268.54 L457.05,267.47 L457.29,266.41 L457.53,265.38 L457.78,264.38 L458.02,263.42 L458.27,262.49 L458.53,261.59 L458.82,260.66 L459.15,259.66 L459.55,258.56 L460.01,257.40 L460.49,256.24 L460.99,255.15 L461.49,254.15 L461.99,253.26 L462.49,252.49 L462.99,251.85 L463.50,251.36 L464.05,251.03 L464.64,250.89 L465.27,250.98 L465.94,251.32 L466.61,251.94 L467.27,252.81 L467.91,253.86 L468.47,254.97 L468.94,256.01 L469.30,256.93 L469.59,257.76 L469.84,258.56 L470.08,259.39 L470.32,260.26 L470.55,261.17 L470.78,262.11 L471.02,263.08 L471.26,264.09 L471.50,265.12 L471.75,266.17 L472.00,267.24 L472.26,268.33 L472.53,269.43 L472.80,270.54 L473.09,271.65 L473.38,272.75 L473.67,273.82 L473.96,274.85 L474.24,275.82 L474.52,276.76 L474.79,277.69 L475.06,278.62 L475.34,279.58 L475.63,280.54 L475.91,281.53 L476.21,282.52 L476.51,283.52 L476.81,284.53 L477.12,285.55 L477.43,286.57 L477.74,287.58 L478.05,288.60 L478.37,289.60 L478.69,290.60 L479.02,291.60 L479.34,292.57 L479.67,293.54 L479.99,294.48 L480.32,295.41 L480.65,296.31 L480.98,297.20 L481.33,298.09 L481.69,299.00 L482.09,299.95 L482.53,300.96 L482.99,301.99 L483.47,303.01 L483.95,304.02 L484.44,305.00 L484.94,305.95 L485.43,306.88 L485.93,307.78 L486.43,308.67 L486.94,309.53 L487.44,310.37 L487.94,311.19 L488.45,311.99 L488.95,312.77 L489.46,313.55 L489.98,314.32 L490.53,315.13 L491.12,315.98 L491.77,316.87 L492.44,317.78 L493.13,318.67 L493.82,319.54 L494.52,320.38 L495.21,321.17 L495.91,321.92 L496.59,322.62 L497.28,323.27 L497.96,323.88 L498.68,324.45 L499.45,324.98 L500.33,325.47 L501.29,325.91 L502.32,326.25 L503.36,326.47 L504.39,326.58 L505.41,326.60 L506.41,326.53 L507.40,326.39 L508.38,326.17 L509.34,325.87 L510.28,325.48 L511.21,325.02 L512.14,324.53 L513.06,324.01 L513.98,323.46 L514.90,322.88 L515.82,322.26 L516.73,321.63 L517.65,321.02 L518.56,320.50 L519.45,320.11 L520.32,319.89 L521.15,319.85 L521.95,320.00 L522.71,320.30 L523.48,320.77 L524.26,321.38 L525.08,322.11 L525.91,322.91 L526.70,323.72 L527.41,324.47 L528.04,325.18 L528.64,325.87 L529.23,326.58 L529.84,327.33 L530.47,328.11 L531.11,328.92 L531.76,329.75 L532.43,330.59 L533.10,331.45 L533.78,332.30 L534.47,333.16 L535.15,333.99 L535.84,334.81 L536.52,335.61 L537.20,336.39 L537.90,337.14 L538.60,337.88 L539.33,338.60 L540.07,339.32 L540.82,340.02 L541.57,340.69 L542.33,341.36 L543.08,342.01 L543.84,342.66 L544.61,343.30 L545.37,343.95 L546.14,344.60 L546.91,345.25 L547.68,345.92 L548.45,346.60 L549.21,347.29 L549.96,348.00 L550.70,348.71 L551.44,349.45 L552.17,350.20 L552.90,350.97 L553.63,351.75 L554.37,352.55 L555.11,353.35 L555.85,354.15 L556.58,354.94 L557.32,355.71 L558.05,356.47 L558.78,357.19 L559.50,357.89 L560.21,358.55 L560.94,359.17 L561.70,359.77 L562.53,360.34 L563.44,360.88 L564.41,361.36 L565.43,361.79 L566.45,362.14 L567.46,362.43 L568.45,362.69 L569.41,362.95 L570.35,363.23 L571.26,363.56 L572.13,363.95 L572.98,364.44 L573.80,365.02 L574.58,365.67 L575.32,366.38 L576.03,367.14 L576.71,367.93 L577.37,368.73 L578.02,369.55 L578.67,370.37 L579.32,371.17 L579.97,371.95 L580.60,372.71 L581.22,373.45 L581.82,374.17 L582.41,374.89 L583.01,375.62 L583.63,376.36 L584.29,377.13 L584.99,377.91 L585.73,378.69 L586.49,379.46 L587.23,380.18 L587.95,380.86 L588.67,381.51 L589.40,382.15 L590.15,382.80 L590.93,383.47 L591.74,384.15 L592.56,384.84 L593.39,385.53 L594.22,386.22 L595.05,386.90 L595.87,387.59 L596.67,388.26 L597.46,388.92 L598.22,389.57 L598.97,390.21 L599.73,390.88 L600.50,391.58 L601.30,392.32 L602.10,393.07 L602.88,393.83 L603.64,394.58 L604.38,395.30 L605.09,396.01 L605.79,396.70 L606.48,397.36 L607.18,398.00 L607.90,398.62 L608.65,399.24 L609.46,399.86 L610.32,400.48 L611.21,401.07 L612.10,401.63 L613.00,402.16 L613.89,402.66 L614.78,403.16 L615.67,403.66 L616.56,404.16 L617.44,404.68 L618.33,405.20 L619.22,405.73 L620.10,406.25 L620.99,406.77 L621.88,407.28 L622.76,407.79 L623.66,408.28 L624.56,408.78 L625.48,409.28 L626.40,409.80 L627.34,410.33 L628.28,410.86 L629.22,411.36 L630.15,411.79 L631.07,412.13 L631.97,412.33 L632.85,412.37 L633.71,412.21 L634.55,411.86 L635.37,411.32 L636.17,410.65 L636.95,409.89 L637.72,409.11 L638.50,408.36 L639.30,407.67 L640.15,407.05 L641.05,406.50 L641.99,406.02 L642.96,405.64 L643.91,405.39 L644.84,405.30 L645.73,405.40 L646.54,405.67 L647.29,406.11 L648.00,406.70 L648.68,407.40 L649.34,408.21 L650.00,409.09 L650.66,410.02 L651.30,410.97 L651.92,411.91 L652.51,412.84 L653.09,413.79 L653.66,414.77 L654.24,415.78 L654.81,416.81 L655.37,417.84 L655.90,418.84 L656.40,419.77 L656.84,420.60 L657.21,421.30 L657.49,421.82 L657.80,422.40" fill="none" stroke="#e02a2a" stroke-width="1.6" stroke-linejoin="round" stroke-linecap="round"/>
<path d="M377.30,421.00 L377.51,420.23 L377.66,419.66 L377.84,418.96 L378.05,418.15 L378.29,417.26 L378.54,416.30 L378.81,415.29 L379.10,414.23 L379.41,413.13 L379.74,412.01 L380.08,410.88 L380.43,409.77 L380.78,408.70 L381.13,407.70 L381.46,406.78 L381.80,405.89 L382.15,405.01 L382.51,404.13 L382.88,403.24 L383.26,402.34 L383.65,401.42 L384.05,400.49 L384.45,399.54 L384.85,398.58 L385.25,397.60 L385.65,396.61 L386.05,395.60 L386.44,394.57 L386.82,393.53 L387.18,392.48 L387.52,391.44 L387.84,390.44 L388.12,389.48 L388.38,388.55 L388.62,387.63 L388.86,386.71 L389.08,385.78 L389.30,384.84 L389.52,383.88 L389.73,382.91 L389.94,381.94 L390.15,380.95 L390.36,379.96 L390.56,378.96 L390.77,377.95 L390.98,376.94 L391.19,375.93 L391.40,374.92 L391.62,373.91 L391.84,372.89 L392.07,371.88 L392.30,370.88 L392.54,369.88 L392.79,368.88 L393.05,367.89 L393.31,366.91 L393.57,365.92 L393.85,364.93 L394.12,363.94 L394.41,362.93 L394.70,361.91 L394.99,360.88 L395.29,359.85 L395.59,358.82 L395.90,357.78 L396.20,356.75 L396.52,355.72 L396.83,354.70 L397.15,353.68 L397.46,352.68 L397.78,351.69 L398.10,350.72 L398.42,349.77 L398.74,348.84 L399.06,347.93 L399.38,347.04 L399.70,346.18 L400.02,345.34 L400.36,344.50 L400.73,343.61 L401.15,342.66 L401.62,341.65 L402.11,340.63 L402.62,339.64 L403.13,338.71 L403.64,337.84 L404.15,337.02 L404.68,336.23 L405.21,335.48 L405.76,334.75 L406.33,334.04 L406.93,333.32 L407.55,332.60 L408.20,331.87 L408.87,331.15 L409.58,330.43 L410.31,329.72 L411.08,329.02 L411.86,328.34 L412.67,327.67 L413.49,327.01 L414.32,326.36 L415.16,325.71 L415.99,325.08 L416.82,324.45 L417.63,323.83 L418.44,323.21 L419.24,322.58 L420.04,321.94 L420.84,321.27 L421.65,320.58 L422.44,319.89 L423.23,319.19 L424.01,318.50 L424.78,317.83 L425.56,317.17 L426.34,316.53 L427.12,315.92 L427.93,315.34 L428.76,314.80 L429.63,314.29 L430.53,313.82 L431.49,313.40 L432.49,313.02 L433.51,312.67 L434.56,312.36 L435.62,312.08 L436.67,311.81 L437.70,311.56 L438.70,311.29 L439.67,311.02 L440.62,310.72 L441.55,310.39 L442.49,310.03 L443.42,309.63 L444.33,309.21 L445.19,308.77 L445.99,308.27 L446.74,307.69 L447.45,307.03 L448.11,306.29 L448.69,305.51 L449.21,304.73 L449.66,303.92 L450.09,303.09 L450.50,302.21 L450.91,301.29 L451.30,300.32 L451.69,299.33 L452.08,298.31 L452.47,297.27 L452.85,296.21 L453.23,295.15 L453.60,294.11 L453.95,293.09 L454.29,292.10 L454.61,291.11 L454.93,290.11 L455.23,289.09 L455.54,288.05 L455.84,287.00 L456.14,285.93 L456.44,284.87 L456.74,283.81 L457.04,282.78 L457.33,281.77 L457.63,280.80 L457.94,279.87 L458.25,278.97 L458.59,278.09 L458.99,277.17 L459.46,276.18 L460.02,275.14 L460.64,274.12 L461.29,273.19 L461.94,272.41 L462.59,271.80 L463.25,271.37 L463.92,271.15 L464.60,271.17 L465.30,271.43 L466.01,271.93 L466.71,272.64 L467.39,273.50 L468.02,274.44 L468.59,275.39 L469.08,276.31 L469.49,277.20 L469.83,278.07 L470.13,278.97 L470.42,279.91 L470.72,280.91 L471.04,281.98 L471.38,283.08 L471.74,284.17 L472.09,285.18 L472.42,286.10 L472.74,286.97 L473.07,287.83 L473.40,288.70 L473.75,289.59 L474.10,290.51 L474.47,291.45 L474.85,292.41 L475.23,293.39 L475.62,294.38 L476.01,295.38 L476.41,296.39 L476.81,297.41 L477.20,298.43 L477.59,299.44 L477.98,300.43 L478.34,301.40 L478.70,302.35 L479.05,303.30 L479.39,304.26 L479.74,305.23 L480.09,306.22 L480.44,307.22 L480.79,308.23 L481.15,309.24 L481.51,310.25 L481.87,311.26 L482.23,312.25 L482.60,313.23 L482.97,314.20 L483.34,315.14 L483.71,316.06 L484.08,316.95 L484.47,317.81 L484.87,318.66 L485.30,319.54 L485.79,320.46 L486.32,321.41 L486.89,322.37 L487.48,323.29 L488.07,324.16 L488.67,324.98 L489.29,325.76 L489.91,326.51 L490.56,327.23 L491.24,327.93 L491.94,328.62 L492.66,329.31 L493.42,329.99 L494.20,330.68 L495.01,331.38 L495.84,332.08 L496.71,332.78 L497.60,333.47 L498.51,334.14 L499.42,334.77 L500.34,335.36 L501.26,335.88 L502.17,336.33 L503.06,336.69 L503.94,336.95 L504.82,337.08 L505.71,337.08 L506.61,336.91 L507.53,336.60 L508.44,336.14 L509.34,335.58 L510.23,334.93 L511.09,334.24 L511.93,333.54 L512.75,332.85 L513.55,332.20 L514.38,331.59 L515.25,331.00 L516.18,330.43 L517.13,329.88 L518.07,329.42 L518.97,329.09 L519.85,328.91 L520.70,328.89 L521.50,329.03 L522.28,329.30 L523.04,329.70 L523.82,330.22 L524.63,330.86 L525.48,331.60 L526.31,332.38 L527.09,333.13 L527.79,333.84 L528.43,334.52 L529.06,335.22 L529.70,335.94 L530.36,336.71 L531.04,337.50 L531.73,338.31 L532.44,339.14 L533.16,339.98 L533.88,340.83 L534.60,341.66 L535.33,342.49 L536.05,343.30 L536.78,344.09 L537.50,344.85 L538.22,345.59 L538.96,346.32 L539.70,347.04 L540.44,347.75 L541.19,348.44 L541.95,349.13 L542.70,349.81 L543.46,350.48 L544.22,351.14 L544.99,351.79 L545.75,352.45 L546.52,353.09 L547.29,353.74 L548.06,354.39 L548.84,355.03 L549.62,355.69 L550.40,356.34 L551.19,357.01 L551.98,357.69 L552.78,358.38 L553.59,359.08 L554.39,359.78 L555.20,360.47 L556.01,361.15 L556.82,361.82 L557.63,362.46 L558.42,363.08 L559.22,363.67 L560.00,364.23 L560.80,364.75 L561.61,365.24 L562.48,365.69 L563.42,366.10 L564.41,366.46 L565.43,366.75 L566.45,366.97 L567.46,367.15 L568.45,367.30 L569.41,367.45 L570.35,367.61 L571.26,367.82 L572.16,368.09 L573.04,368.45 L573.90,368.90 L574.74,369.42 L575.55,370.01 L576.33,370.64 L577.07,371.30 L577.80,371.97 L578.53,372.64 L579.26,373.31 L579.99,373.95 L580.71,374.57 L581.42,375.17 L582.11,375.75 L582.81,376.33 L583.54,376.94 L584.31,377.61 L585.12,378.32 L585.95,379.06 L586.77,379.80 L587.54,380.51 L588.26,381.18 L588.96,381.86 L589.68,382.55 L590.43,383.26 L591.19,384.01 L591.98,384.77 L592.78,385.55 L593.59,386.33 L594.40,387.11 L595.20,387.89 L595.99,388.65 L596.77,389.40 L597.54,390.12 L598.28,390.81 L599.02,391.49 L599.78,392.18 L600.58,392.90 L601.42,393.63 L602.28,394.36 L603.12,395.07 L603.94,395.74 L604.73,396.38 L605.50,396.98 L606.26,397.57 L607.02,398.13 L607.79,398.69 L608.59,399.26 L609.43,399.84 L610.31,400.43 L611.20,401.01 L612.10,401.57 L613.00,402.11 L613.89,402.64 L614.78,403.15 L615.67,403.66 L616.58,404.16 L617.49,404.67 L618.42,405.17 L619.35,405.68 L620.29,406.17 L621.22,406.66 L622.16,407.13 L623.11,407.60 L624.06,408.06 L625.02,408.54 L625.99,409.04 L626.98,409.56 L627.97,410.09 L628.97,410.59 L629.96,411.03 L630.93,411.37 L631.88,411.57 L632.79,411.58 L633.65,411.40 L634.47,411.01 L635.26,410.44 L636.02,409.73 L636.76,408.93 L637.49,408.10 L638.22,407.29 L638.97,406.53 L639.76,405.84 L640.61,405.20 L641.52,404.63 L642.48,404.14 L643.44,403.77 L644.38,403.58 L645.27,403.59 L646.08,403.80 L646.80,404.20 L647.44,404.76 L648.04,405.44 L648.61,406.23 L649.18,407.11 L649.74,408.05 L650.30,409.02 L650.86,410.01 L651.42,410.99 L651.98,411.95 L652.53,412.91 L653.10,413.88 L653.66,414.87 L654.24,415.89 L654.81,416.92 L655.37,417.94 L655.90,418.91 L656.40,419.82 L656.84,420.64 L657.21,421.32 L657.49,421.83 L657.80,422.40" fill="none" stroke="#2850b0" stroke-width="1.6" stroke-linejoin="round" stroke-linecap="round"/>
</svg></body></html>
